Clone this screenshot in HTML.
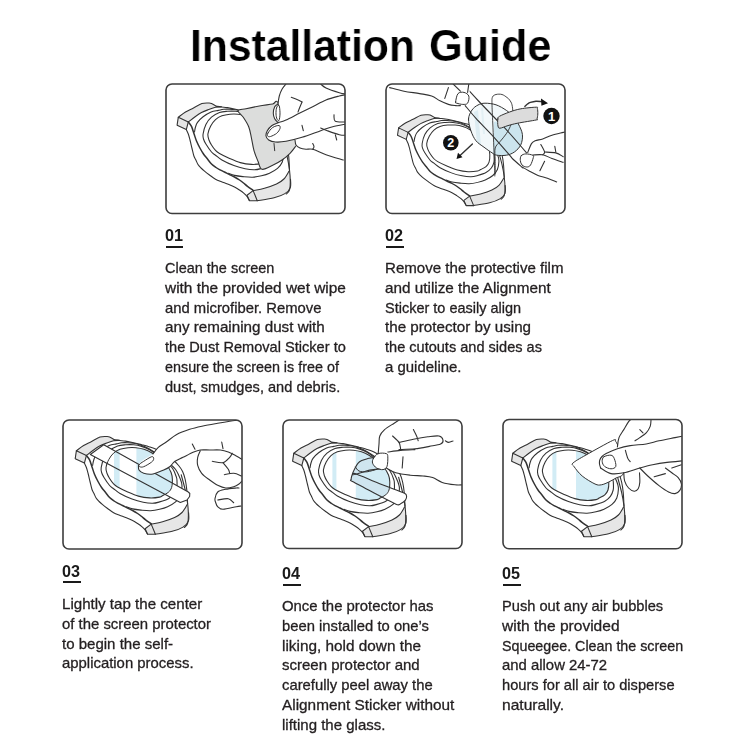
<!DOCTYPE html>
<html><head><meta charset="utf-8">
<style>
html,body{margin:0;padding:0;background:#fff;}
body{width:750px;height:750px;position:relative;overflow:hidden;font-family:"Liberation Sans",sans-serif;}
#art{position:absolute;left:0;top:0;}
.title{position:absolute;left:0;top:0;white-space:nowrap;font-weight:bold;font-size:45px;color:#000;line-height:1;-webkit-text-stroke:0.2px #fff;}
.num{position:absolute;font-weight:bold;font-size:16.2px;color:#1a1a1a;line-height:1;white-space:nowrap;}
.ul{position:absolute;height:2.2px;background:#1a1a1a;}
.txt{position:absolute;font-size:15px;line-height:19.8px;color:#231f20;white-space:nowrap;-webkit-text-stroke:0.3px #231f20;}
.txt div{transform-origin:0 0;}
.txt,.title,.num{will-change:transform;}
</style></head><body>

<svg id="art" width="750" height="750" viewBox="0 0 750 750">
<clipPath id="c1"><rect x="166" y="84" width="179" height="129.5" rx="6"/></clipPath><g clip-path="url(#c1)"><g transform="translate(166,84)"><g transform="translate(2.5,0)"><path d="M17.80,45.60 L19.80,50.00 L21.50,56.00 L23.40,64.00 L25.40,72.00 L27.40,76.00 L29.50,80.50 L32.50,84.00 L36.00,87.20 L41.00,91.00 L47.00,95.20 L53.00,97.80 L59.00,100.00 L66.00,103.00 L71.00,106.00 L75.50,109.30 L78.50,112.50 L80.80,116.50 L81.00,116.80 L88.80,116.80 L105.60,113.80 L116.40,109.60 L121.80,103.60 L122.40,95.20 L121.00,86.00 L121.00,86.00 L120.20,72.40 L118.60,62.00 L116.00,54.00 L112.00,48.00 L106.00,42.00 L98.00,36.50 L90.00,32.00 L83.00,29.40 L75.00,27.20 L67.00,25.20 L59.00,23.60 L53.00,23.00 L48.00,22.30 L39.80,19.00 L33.40,19.60 L25.00,24.00 L17.00,28.00 L9.80,33.20 L8.60,41.20Z" fill="#fff" stroke="none"/>
<path d="M9.80,33.20C9.52,32.20 15.48,28.92 17.00,28.00C18.52,27.08 23.36,24.84 25.00,24.00C26.64,23.16 31.92,20.10 33.40,19.60C34.88,19.10 38.84,19.02 39.80,19.00C40.76,18.98 42.18,19.07 43.00,19.40C43.82,19.73 47.60,21.92 48.00,22.30C48.40,22.68 47.80,22.87 47.00,23.20C46.20,23.53 41.40,25.06 40.00,25.60C38.60,26.14 34.34,27.88 33.00,28.60C31.66,29.32 27.92,31.86 26.60,32.80C25.28,33.74 21.48,37.96 19.80,38.00C18.12,38.04 10.08,34.20 9.80,33.20Z" fill="#e6e6e6"/>
<path d="M9.80,33.20 L8.60,41.20 L17.80,45.60 L19.80,38.00Z" fill="#e6e6e6"/>
<path d="M78.50,111.20 L84.60,106.60 L88.80,116.80 L81.00,116.80Z" fill="#e6e6e6"/>
<path d="M84.60,106.60 L96.00,104.20 L108.00,100.00 L115.40,95.00 L120.60,87.00 L122.00,95.20 L121.80,103.60 L116.40,109.60 L105.60,113.80 L88.80,116.80Z" fill="#e6e6e6"/>
<g fill="none" stroke="#333333" stroke-width="1.1" stroke-linecap="round" stroke-linejoin="round"><path d="M17.80,45.60C18.13,46.33 19.18,48.27 19.80,50.00C20.42,51.73 20.90,53.67 21.50,56.00C22.10,58.33 22.75,61.33 23.40,64.00C24.05,66.67 24.73,70.00 25.40,72.00C26.07,74.00 26.72,74.58 27.40,76.00C28.08,77.42 28.65,79.17 29.50,80.50C30.35,81.83 31.42,82.88 32.50,84.00C33.58,85.12 34.58,86.03 36.00,87.20C37.42,88.37 39.17,89.67 41.00,91.00C42.83,92.33 45.00,94.07 47.00,95.20C49.00,96.33 51.00,97.00 53.00,97.80C55.00,98.60 56.83,99.13 59.00,100.00C61.17,100.87 64.00,102.00 66.00,103.00C68.00,104.00 69.42,104.95 71.00,106.00C72.58,107.05 74.25,108.22 75.50,109.30C76.75,110.38 77.62,111.30 78.50,112.50C79.38,113.70 80.42,115.83 80.80,116.50"/><path d="M19.80,38.00C20.33,38.73 22.03,40.40 23.00,42.40C23.97,44.40 24.77,47.57 25.60,50.00C26.43,52.43 27.03,54.67 28.00,57.00C28.97,59.33 30.23,61.83 31.40,64.00C32.57,66.17 33.73,68.17 35.00,70.00C36.27,71.83 37.67,73.33 39.00,75.00C40.33,76.67 41.58,78.58 43.00,80.00C44.42,81.42 46.17,82.57 47.50,83.50C48.83,84.43 49.58,84.85 51.00,85.60C52.42,86.35 54.40,87.20 56.00,88.00C57.60,88.80 58.93,89.57 60.60,90.40C62.27,91.23 64.27,92.07 66.00,93.00C67.73,93.93 69.50,95.00 71.00,96.00C72.50,97.00 73.67,97.93 75.00,99.00C76.33,100.07 77.40,101.17 79.00,102.40C80.60,103.63 83.67,105.73 84.60,106.40" stroke-width="1.5"/><path d="M26.00,48.00C26.17,47.17 26.50,44.60 27.00,43.00C27.50,41.40 27.73,40.10 29.00,38.40C30.27,36.70 32.33,34.53 34.60,32.80C36.87,31.07 40.07,29.07 42.60,28.00C45.13,26.93 47.73,26.85 49.80,26.40C51.87,25.95 53.13,25.50 55.00,25.30C56.87,25.10 59.00,25.12 61.00,25.20C63.00,25.28 65.00,25.47 67.00,25.80C69.00,26.13 71.00,26.57 73.00,27.20C75.00,27.83 76.83,28.55 79.00,29.60C81.17,30.65 83.33,31.85 86.00,33.50C88.67,35.15 92.17,37.42 95.00,39.50C97.83,41.58 100.67,43.92 103.00,46.00C105.33,48.08 107.47,50.00 109.00,52.00C110.53,54.00 111.27,56.00 112.20,58.00C113.13,60.00 114.07,62.13 114.60,64.00C115.13,65.87 115.53,66.87 115.40,69.20C115.27,71.53 114.87,75.47 113.80,78.00C112.73,80.53 111.13,82.53 109.00,84.40C106.87,86.27 103.67,87.97 101.00,89.20C98.33,90.43 95.83,91.13 93.00,91.80C90.17,92.47 87.10,93.07 84.00,93.20C80.90,93.33 77.40,92.90 74.40,92.60C71.40,92.30 68.40,91.95 66.00,91.40C63.60,90.85 61.00,89.65 60.00,89.30"/><path d="M34.60,50.00C34.20,52.43 34.53,53.33 35.00,55.00C35.47,56.67 36.07,57.83 37.40,60.00C38.73,62.17 41.40,66.13 43.00,68.00C44.60,69.87 45.27,69.87 47.00,71.20C48.73,72.53 50.33,74.27 53.40,76.00C56.47,77.73 61.53,80.13 65.40,81.60C69.27,83.07 73.17,84.10 76.60,84.80C80.03,85.50 83.27,85.87 86.00,85.80C88.73,85.73 90.37,85.17 93.00,84.40C95.63,83.63 99.40,82.53 101.80,81.20C104.20,79.87 106.00,78.27 107.40,76.40C108.80,74.53 109.70,72.07 110.20,70.00C110.70,67.93 110.47,65.73 110.40,64.00C110.33,62.27 110.53,61.77 109.80,59.60C109.07,57.43 107.80,53.60 106.00,51.00C104.20,48.40 101.50,46.17 99.00,44.00C96.50,41.83 93.67,39.95 91.00,38.00C88.33,36.05 85.67,33.82 83.00,32.30C80.33,30.78 77.67,29.73 75.00,28.90C72.33,28.07 69.67,27.57 67.00,27.30C64.33,27.03 61.67,27.10 59.00,27.30C56.33,27.50 53.67,27.52 51.00,28.50C48.33,29.48 45.27,31.22 43.00,33.20C40.73,35.18 38.80,37.60 37.40,40.40C36.00,43.20 35.00,47.57 34.60,50.00Z"/><path d="M39.40,50.00C39.12,52.33 39.90,54.17 40.50,56.00C41.10,57.83 41.92,59.27 43.00,61.00C44.08,62.73 45.67,64.98 47.00,66.40C48.33,67.82 48.73,68.20 51.00,69.50C53.27,70.80 57.13,72.68 60.60,74.20C64.07,75.72 68.07,77.57 71.80,78.60C75.53,79.63 79.47,80.23 83.00,80.40C86.53,80.57 90.80,80.00 93.00,79.60C95.20,79.20 94.73,78.80 96.20,78.00C97.67,77.20 100.33,76.13 101.80,74.80C103.27,73.47 104.33,72.13 105.00,70.00C105.67,67.87 105.88,64.50 105.80,62.00C105.72,59.50 105.47,57.42 104.50,55.00C103.53,52.58 101.92,49.83 100.00,47.50C98.08,45.17 95.50,43.05 93.00,41.00C90.50,38.95 87.60,36.73 85.00,35.20C82.40,33.67 80.00,32.63 77.40,31.80C74.80,30.97 72.07,30.47 69.40,30.20C66.73,29.93 64.07,29.93 61.40,30.20C58.73,30.47 55.80,30.90 53.40,31.80C51.00,32.70 48.87,33.90 47.00,35.60C45.13,37.30 43.47,39.60 42.20,42.00C40.93,44.40 39.68,47.67 39.40,50.00Z"/><path d="M48.00,22.30C48.83,22.42 51.17,22.78 53.00,23.00C54.83,23.22 56.67,23.23 59.00,23.60C61.33,23.97 64.33,24.60 67.00,25.20C69.67,25.80 72.33,26.50 75.00,27.20C77.67,27.90 80.50,28.60 83.00,29.40C85.50,30.20 87.50,30.82 90.00,32.00C92.50,33.18 95.33,34.83 98.00,36.50C100.67,38.17 103.67,40.08 106.00,42.00C108.33,43.92 110.33,46.00 112.00,48.00C113.67,50.00 114.90,51.67 116.00,54.00C117.10,56.33 117.90,58.93 118.60,62.00C119.30,65.07 119.80,68.40 120.20,72.40C120.60,76.40 120.87,83.73 121.00,86.00"/><path d="M114.60,57.20C115.27,59.73 117.53,67.60 118.60,72.40C119.67,77.20 120.47,81.73 121.00,86.00C121.53,90.27 121.80,94.67 121.80,98.00C121.80,101.33 121.67,104.00 121.00,106.00C120.33,108.00 118.33,109.33 117.80,110.00"/><path d="M9.80,33.20C11.00,32.33 14.47,29.53 17.00,28.00C19.53,26.47 22.27,25.40 25.00,24.00C27.73,22.60 30.93,20.43 33.40,19.60C35.87,18.77 38.20,19.03 39.80,19.00C41.40,18.97 41.63,18.85 43.00,19.40C44.37,19.95 47.17,21.82 48.00,22.30"/><path d="M19.80,38.00C20.93,37.13 24.40,34.37 26.60,32.80C28.80,31.23 30.77,29.80 33.00,28.60C35.23,27.40 37.67,26.50 40.00,25.60C42.33,24.70 44.83,23.67 47.00,23.20C49.17,22.73 52.00,22.87 53.00,22.80"/><path d="M9.80,33.20 L8.60,41.20 L17.80,45.60 L19.80,38.00Z"/><path d="M78.50,111.20 L84.60,106.60 L88.80,116.80 L81.00,116.80Z"/><path d="M84.60,106.60C86.50,106.20 92.10,105.30 96.00,104.20C99.90,103.10 104.77,101.53 108.00,100.00C111.23,98.47 113.30,97.17 115.40,95.00C117.50,92.83 119.73,88.33 120.60,87.00"/><path d="M122.00,95.20C121.97,96.60 122.73,101.20 121.80,103.60C120.87,106.00 119.10,107.90 116.40,109.60C113.70,111.30 110.20,112.60 105.60,113.80C101.00,115.00 91.60,116.30 88.80,116.80"/></g></g>
<path d="M72.00,26.70C72.45,25.27 76.45,25.48 80.00,24.70C83.55,23.92 88.85,22.78 93.30,22.00C97.75,21.22 103.58,20.58 106.70,20.00C109.82,19.42 108.95,15.17 112.00,18.50C115.05,21.83 121.67,33.42 125.00,40.00C128.33,46.58 131.28,54.22 132.00,58.00C132.72,61.78 130.63,60.82 129.30,62.70C127.97,64.58 126.22,67.08 124.00,69.30C121.78,71.52 118.88,74.00 116.00,76.00C113.12,78.00 110.03,79.75 106.70,81.30C103.37,82.85 98.45,85.97 96.00,85.30C93.55,84.63 93.33,80.40 92.00,77.30C90.67,74.20 89.12,70.70 88.00,66.70C86.88,62.70 86.18,57.30 85.30,53.30C84.42,49.30 84.03,46.03 82.70,42.70C81.37,39.37 79.08,35.97 77.30,33.30C75.52,30.63 71.55,28.13 72.00,26.70Z" fill="#dcdddc" stroke="#333333" stroke-width="1.1" stroke-linecap="round" stroke-linejoin="round"/>
<path d="M120.00,-2.00 L116.00,5.30 L113.30,12.00 L112.00,20.00 L108.70,22.70 L107.30,29.30 L108.70,34.70 L112.00,38.50 L106.00,41.50 L101.30,46.70 L100.00,52.00 L102.70,56.00 L109.30,58.00 L120.00,57.30 L129.00,55.50 L130.00,62.70 L136.00,64.70 L146.70,65.30 L160.00,70.70 L177.30,76.00 L182.00,76.00 L182.00,-2.00Z" fill="#fff"/>
<path d="M120.00,0.00C119.33,0.88 117.12,3.30 116.00,5.30C114.88,7.30 113.97,9.55 113.30,12.00C112.63,14.45 112.22,18.67 112.00,20.00" fill="none" stroke="#333333" stroke-width="1.1" stroke-linecap="round" stroke-linejoin="round"/>
<path d="M112.00,20.00C111.45,20.45 109.48,21.15 108.70,22.70C107.92,24.25 107.30,27.30 107.30,29.30C107.30,31.30 107.92,33.17 108.70,34.70C109.48,36.23 111.45,37.87 112.00,38.50" fill="none" stroke="#333333" stroke-width="1.1" stroke-linecap="round" stroke-linejoin="round"/>
<path d="M112.50,21.00C112.00,21.17 110.92,22.50 110.50,24.00C110.08,25.50 109.92,28.17 110.00,30.00C110.08,31.83 110.50,33.92 111.00,35.00C111.50,36.08 112.50,37.33 113.00,36.50C113.50,35.67 113.92,32.25 114.00,30.00C114.08,27.75 113.75,24.50 113.50,23.00C113.25,21.50 113.00,20.83 112.50,21.00Z" fill="none" stroke="#333333" stroke-width="1.0" stroke-linecap="round" stroke-linejoin="round"/>
<path d="M112.00,38.70C113.33,38.25 116.45,37.57 120.00,36.00C123.55,34.43 128.85,31.52 133.30,29.30C137.75,27.08 142.25,24.92 146.70,22.70C151.15,20.48 155.57,17.78 160.00,16.00C164.43,14.22 169.97,12.88 173.30,12.00C176.63,11.12 178.88,10.92 180.00,10.70" fill="none" stroke="#333333" stroke-width="1.1" stroke-linecap="round" stroke-linejoin="round"/>
<path d="M112.00,38.70C111.00,39.17 107.78,40.17 106.00,41.50C104.22,42.83 102.30,44.95 101.30,46.70C100.30,48.45 99.77,50.45 100.00,52.00C100.23,53.55 101.15,55.00 102.70,56.00C104.25,57.00 106.42,57.78 109.30,58.00C112.18,58.22 115.55,58.08 120.00,57.30C124.45,56.52 130.22,55.07 136.00,53.30C141.78,51.53 149.58,48.47 154.70,46.70C159.82,44.93 162.48,43.82 166.70,42.70C170.92,41.58 177.78,40.45 180.00,40.00" fill="none" stroke="#333333" stroke-width="1.1" stroke-linecap="round" stroke-linejoin="round"/>
<path d="M102.00,49.00C102.87,47.58 104.87,44.75 106.70,43.50C108.53,42.25 111.78,41.33 113.00,41.50C114.22,41.67 114.38,43.20 114.00,44.50C113.62,45.80 112.28,47.97 110.70,49.30C109.12,50.63 106.03,52.05 104.50,52.50C102.97,52.95 101.92,52.58 101.50,52.00C101.08,51.42 101.13,50.42 102.00,49.00Z" fill="none" stroke="#333333" stroke-width="1.0" stroke-linecap="round" stroke-linejoin="round"/>
<path d="M125.30,13.30C126.25,13.67 129.22,14.72 131.00,15.50C132.78,16.28 135.17,17.58 136.00,18.00" fill="none" stroke="#333333" stroke-width="1.1" stroke-linecap="round" stroke-linejoin="round"/>
<path d="M136.00,18.00C135.58,19.00 134.17,22.33 133.50,24.00C132.83,25.67 132.25,27.33 132.00,28.00" fill="none" stroke="#333333" stroke-width="1.1" stroke-linecap="round" stroke-linejoin="round"/>
<path d="M154.70,0.00C155.58,0.67 156.90,2.55 160.00,4.00C163.10,5.45 169.97,7.70 173.30,8.70C176.63,9.70 178.88,9.78 180.00,10.00" fill="none" stroke="#333333" stroke-width="1.1" stroke-linecap="round" stroke-linejoin="round"/>
<path d="M129.00,56.00C129.17,56.83 129.17,59.67 130.00,61.00C130.83,62.33 132.33,63.28 134.00,64.00C135.67,64.72 137.88,65.08 140.00,65.30C142.12,65.52 143.37,64.40 146.70,65.30C150.03,66.20 154.90,68.92 160.00,70.70C165.10,72.48 174.42,75.12 177.30,76.00" fill="none" stroke="#333333" stroke-width="1.1" stroke-linecap="round" stroke-linejoin="round"/>
<path d="M146.70,65.30C146.92,64.87 148.00,63.67 148.00,62.70C148.00,61.73 146.92,60.03 146.70,59.50" fill="none" stroke="#333333" stroke-width="1.1" stroke-linecap="round" stroke-linejoin="round"/>
<path d="M168.00,30.70C168.22,31.80 167.30,36.08 169.30,37.30C171.30,38.52 178.22,37.88 180.00,38.00" fill="none" stroke="#333333" stroke-width="1.1" stroke-linecap="round" stroke-linejoin="round"/>
<path d="M154.70,44.00C155.80,44.45 158.20,45.58 161.30,46.70C164.40,47.82 170.18,49.93 173.30,50.70C176.42,51.47 178.88,51.20 180.00,51.30" fill="none" stroke="#333333" stroke-width="1.1" stroke-linecap="round" stroke-linejoin="round"/>
<path d="M169.30,50.70L170.70,56.00" fill="none" stroke="#333333" stroke-width="1.1" stroke-linecap="round" stroke-linejoin="round"/>
<path d="M136.00,41.30L137.30,46.70" fill="none" stroke="#333333" stroke-width="1.1" stroke-linecap="round" stroke-linejoin="round"/>
<path d="M108.00,59.50L108.70,66.70" fill="none" stroke="#333333" stroke-width="1.0" stroke-linecap="round" stroke-linejoin="round"/></g></g>
<clipPath id="c2"><rect x="386" y="84" width="179" height="129.5" rx="6"/></clipPath><g clip-path="url(#c2)"><g transform="translate(386,84)"><g transform="translate(3.3,13) scale(0.95,0.93)"><path d="M17.80,45.60 L19.80,50.00 L21.50,56.00 L23.40,64.00 L25.40,72.00 L27.40,76.00 L29.50,80.50 L32.50,84.00 L36.00,87.20 L41.00,91.00 L47.00,95.20 L53.00,97.80 L59.00,100.00 L66.00,103.00 L71.00,106.00 L75.50,109.30 L78.50,112.50 L80.80,116.50 L81.00,116.80 L88.80,116.80 L105.60,113.80 L116.40,109.60 L121.80,103.60 L122.40,95.20 L121.00,86.00 L121.00,86.00 L120.20,72.40 L118.60,62.00 L116.00,54.00 L112.00,48.00 L106.00,42.00 L98.00,36.50 L90.00,32.00 L83.00,29.40 L75.00,27.20 L67.00,25.20 L59.00,23.60 L53.00,23.00 L48.00,22.30 L39.80,19.00 L33.40,19.60 L25.00,24.00 L17.00,28.00 L9.80,33.20 L8.60,41.20Z" fill="#fff" stroke="none"/>
<path d="M9.80,33.20C9.52,32.20 15.48,28.92 17.00,28.00C18.52,27.08 23.36,24.84 25.00,24.00C26.64,23.16 31.92,20.10 33.40,19.60C34.88,19.10 38.84,19.02 39.80,19.00C40.76,18.98 42.18,19.07 43.00,19.40C43.82,19.73 47.60,21.92 48.00,22.30C48.40,22.68 47.80,22.87 47.00,23.20C46.20,23.53 41.40,25.06 40.00,25.60C38.60,26.14 34.34,27.88 33.00,28.60C31.66,29.32 27.92,31.86 26.60,32.80C25.28,33.74 21.48,37.96 19.80,38.00C18.12,38.04 10.08,34.20 9.80,33.20Z" fill="#e6e6e6"/>
<path d="M9.80,33.20 L8.60,41.20 L17.80,45.60 L19.80,38.00Z" fill="#e6e6e6"/>
<path d="M78.50,111.20 L84.60,106.60 L88.80,116.80 L81.00,116.80Z" fill="#e6e6e6"/>
<path d="M84.60,106.60 L96.00,104.20 L108.00,100.00 L115.40,95.00 L120.60,87.00 L122.00,95.20 L121.80,103.60 L116.40,109.60 L105.60,113.80 L88.80,116.80Z" fill="#e6e6e6"/>
<g fill="none" stroke="#333333" stroke-width="1.1" stroke-linecap="round" stroke-linejoin="round"><path d="M17.80,45.60C18.13,46.33 19.18,48.27 19.80,50.00C20.42,51.73 20.90,53.67 21.50,56.00C22.10,58.33 22.75,61.33 23.40,64.00C24.05,66.67 24.73,70.00 25.40,72.00C26.07,74.00 26.72,74.58 27.40,76.00C28.08,77.42 28.65,79.17 29.50,80.50C30.35,81.83 31.42,82.88 32.50,84.00C33.58,85.12 34.58,86.03 36.00,87.20C37.42,88.37 39.17,89.67 41.00,91.00C42.83,92.33 45.00,94.07 47.00,95.20C49.00,96.33 51.00,97.00 53.00,97.80C55.00,98.60 56.83,99.13 59.00,100.00C61.17,100.87 64.00,102.00 66.00,103.00C68.00,104.00 69.42,104.95 71.00,106.00C72.58,107.05 74.25,108.22 75.50,109.30C76.75,110.38 77.62,111.30 78.50,112.50C79.38,113.70 80.42,115.83 80.80,116.50"/><path d="M19.80,38.00C20.33,38.73 22.03,40.40 23.00,42.40C23.97,44.40 24.77,47.57 25.60,50.00C26.43,52.43 27.03,54.67 28.00,57.00C28.97,59.33 30.23,61.83 31.40,64.00C32.57,66.17 33.73,68.17 35.00,70.00C36.27,71.83 37.67,73.33 39.00,75.00C40.33,76.67 41.58,78.58 43.00,80.00C44.42,81.42 46.17,82.57 47.50,83.50C48.83,84.43 49.58,84.85 51.00,85.60C52.42,86.35 54.40,87.20 56.00,88.00C57.60,88.80 58.93,89.57 60.60,90.40C62.27,91.23 64.27,92.07 66.00,93.00C67.73,93.93 69.50,95.00 71.00,96.00C72.50,97.00 73.67,97.93 75.00,99.00C76.33,100.07 77.40,101.17 79.00,102.40C80.60,103.63 83.67,105.73 84.60,106.40" stroke-width="1.5"/><path d="M26.00,48.00C26.17,47.17 26.50,44.60 27.00,43.00C27.50,41.40 27.73,40.10 29.00,38.40C30.27,36.70 32.33,34.53 34.60,32.80C36.87,31.07 40.07,29.07 42.60,28.00C45.13,26.93 47.73,26.85 49.80,26.40C51.87,25.95 53.13,25.50 55.00,25.30C56.87,25.10 59.00,25.12 61.00,25.20C63.00,25.28 65.00,25.47 67.00,25.80C69.00,26.13 71.00,26.57 73.00,27.20C75.00,27.83 76.83,28.55 79.00,29.60C81.17,30.65 83.33,31.85 86.00,33.50C88.67,35.15 92.17,37.42 95.00,39.50C97.83,41.58 100.67,43.92 103.00,46.00C105.33,48.08 107.47,50.00 109.00,52.00C110.53,54.00 111.27,56.00 112.20,58.00C113.13,60.00 114.07,62.13 114.60,64.00C115.13,65.87 115.53,66.87 115.40,69.20C115.27,71.53 114.87,75.47 113.80,78.00C112.73,80.53 111.13,82.53 109.00,84.40C106.87,86.27 103.67,87.97 101.00,89.20C98.33,90.43 95.83,91.13 93.00,91.80C90.17,92.47 87.10,93.07 84.00,93.20C80.90,93.33 77.40,92.90 74.40,92.60C71.40,92.30 68.40,91.95 66.00,91.40C63.60,90.85 61.00,89.65 60.00,89.30"/><path d="M34.60,50.00C34.20,52.43 34.53,53.33 35.00,55.00C35.47,56.67 36.07,57.83 37.40,60.00C38.73,62.17 41.40,66.13 43.00,68.00C44.60,69.87 45.27,69.87 47.00,71.20C48.73,72.53 50.33,74.27 53.40,76.00C56.47,77.73 61.53,80.13 65.40,81.60C69.27,83.07 73.17,84.10 76.60,84.80C80.03,85.50 83.27,85.87 86.00,85.80C88.73,85.73 90.37,85.17 93.00,84.40C95.63,83.63 99.40,82.53 101.80,81.20C104.20,79.87 106.00,78.27 107.40,76.40C108.80,74.53 109.70,72.07 110.20,70.00C110.70,67.93 110.47,65.73 110.40,64.00C110.33,62.27 110.53,61.77 109.80,59.60C109.07,57.43 107.80,53.60 106.00,51.00C104.20,48.40 101.50,46.17 99.00,44.00C96.50,41.83 93.67,39.95 91.00,38.00C88.33,36.05 85.67,33.82 83.00,32.30C80.33,30.78 77.67,29.73 75.00,28.90C72.33,28.07 69.67,27.57 67.00,27.30C64.33,27.03 61.67,27.10 59.00,27.30C56.33,27.50 53.67,27.52 51.00,28.50C48.33,29.48 45.27,31.22 43.00,33.20C40.73,35.18 38.80,37.60 37.40,40.40C36.00,43.20 35.00,47.57 34.60,50.00Z"/><path d="M39.40,50.00C39.12,52.33 39.90,54.17 40.50,56.00C41.10,57.83 41.92,59.27 43.00,61.00C44.08,62.73 45.67,64.98 47.00,66.40C48.33,67.82 48.73,68.20 51.00,69.50C53.27,70.80 57.13,72.68 60.60,74.20C64.07,75.72 68.07,77.57 71.80,78.60C75.53,79.63 79.47,80.23 83.00,80.40C86.53,80.57 90.80,80.00 93.00,79.60C95.20,79.20 94.73,78.80 96.20,78.00C97.67,77.20 100.33,76.13 101.80,74.80C103.27,73.47 104.33,72.13 105.00,70.00C105.67,67.87 105.88,64.50 105.80,62.00C105.72,59.50 105.47,57.42 104.50,55.00C103.53,52.58 101.92,49.83 100.00,47.50C98.08,45.17 95.50,43.05 93.00,41.00C90.50,38.95 87.60,36.73 85.00,35.20C82.40,33.67 80.00,32.63 77.40,31.80C74.80,30.97 72.07,30.47 69.40,30.20C66.73,29.93 64.07,29.93 61.40,30.20C58.73,30.47 55.80,30.90 53.40,31.80C51.00,32.70 48.87,33.90 47.00,35.60C45.13,37.30 43.47,39.60 42.20,42.00C40.93,44.40 39.68,47.67 39.40,50.00Z"/><path d="M48.00,22.30C48.83,22.42 51.17,22.78 53.00,23.00C54.83,23.22 56.67,23.23 59.00,23.60C61.33,23.97 64.33,24.60 67.00,25.20C69.67,25.80 72.33,26.50 75.00,27.20C77.67,27.90 80.50,28.60 83.00,29.40C85.50,30.20 87.50,30.82 90.00,32.00C92.50,33.18 95.33,34.83 98.00,36.50C100.67,38.17 103.67,40.08 106.00,42.00C108.33,43.92 110.33,46.00 112.00,48.00C113.67,50.00 114.90,51.67 116.00,54.00C117.10,56.33 117.90,58.93 118.60,62.00C119.30,65.07 119.80,68.40 120.20,72.40C120.60,76.40 120.87,83.73 121.00,86.00"/><path d="M114.60,57.20C115.27,59.73 117.53,67.60 118.60,72.40C119.67,77.20 120.47,81.73 121.00,86.00C121.53,90.27 121.80,94.67 121.80,98.00C121.80,101.33 121.67,104.00 121.00,106.00C120.33,108.00 118.33,109.33 117.80,110.00"/><path d="M9.80,33.20C11.00,32.33 14.47,29.53 17.00,28.00C19.53,26.47 22.27,25.40 25.00,24.00C27.73,22.60 30.93,20.43 33.40,19.60C35.87,18.77 38.20,19.03 39.80,19.00C41.40,18.97 41.63,18.85 43.00,19.40C44.37,19.95 47.17,21.82 48.00,22.30"/><path d="M19.80,38.00C20.93,37.13 24.40,34.37 26.60,32.80C28.80,31.23 30.77,29.80 33.00,28.60C35.23,27.40 37.67,26.50 40.00,25.60C42.33,24.70 44.83,23.67 47.00,23.20C49.17,22.73 52.00,22.87 53.00,22.80"/><path d="M9.80,33.20 L8.60,41.20 L17.80,45.60 L19.80,38.00Z"/><path d="M78.50,111.20 L84.60,106.60 L88.80,116.80 L81.00,116.80Z"/><path d="M84.60,106.60C86.50,106.20 92.10,105.30 96.00,104.20C99.90,103.10 104.77,101.53 108.00,100.00C111.23,98.47 113.30,97.17 115.40,95.00C117.50,92.83 119.73,88.33 120.60,87.00"/><path d="M122.00,95.20C121.97,96.60 122.73,101.20 121.80,103.60C120.87,106.00 119.10,107.90 116.40,109.60C113.70,111.30 110.20,112.60 105.60,113.80C101.00,115.00 91.60,116.30 88.80,116.80"/></g></g>
<circle cx="64.8" cy="58.8" r="7.8" fill="#111"/>
<text x="64.8" y="63.1" font-family="Liberation Sans" font-weight="bold" font-size="12.5" fill="#fff" text-anchor="middle">2</text>
<path d="M86.40,60.00L73.00,72.50" fill="none" stroke="#333333" stroke-width="1.4" stroke-linecap="round" stroke-linejoin="round"/>
<path d="M70.5,75 L72,68.8 L76.5,73.2 Z" fill="#111"/>
<clipPath id="gl2"><path d="M82.50,35.00C82.67,31.50 84.42,28.33 86.00,26.00C87.58,23.67 89.83,22.13 92.00,21.00C94.17,19.87 96.00,19.23 99.00,19.20C102.00,19.17 106.43,19.60 110.00,20.80C113.57,22.00 117.47,24.40 120.40,26.40C123.33,28.40 125.60,30.53 127.60,32.80C129.60,35.07 130.93,37.07 132.40,40.00C133.87,42.93 136.00,46.93 136.40,50.40C136.80,53.87 136.13,57.87 134.80,60.80C133.47,63.73 130.80,66.27 128.40,68.00C126.00,69.73 123.33,70.67 120.40,71.20C117.47,71.73 113.20,71.60 110.80,71.20C108.40,70.80 108.13,70.13 106.00,68.80C103.87,67.47 100.67,65.20 98.00,63.20C95.33,61.20 92.17,59.50 90.00,56.80C87.83,54.10 86.25,50.63 85.00,47.00C83.75,43.37 82.33,38.50 82.50,35.00Z"/></clipPath>
<path d="M82.50,35.00C82.67,31.50 84.42,28.33 86.00,26.00C87.58,23.67 89.83,22.13 92.00,21.00C94.17,19.87 96.00,19.23 99.00,19.20C102.00,19.17 106.43,19.60 110.00,20.80C113.57,22.00 117.47,24.40 120.40,26.40C123.33,28.40 125.60,30.53 127.60,32.80C129.60,35.07 130.93,37.07 132.40,40.00C133.87,42.93 136.00,46.93 136.40,50.40C136.80,53.87 136.13,57.87 134.80,60.80C133.47,63.73 130.80,66.27 128.40,68.00C126.00,69.73 123.33,70.67 120.40,71.20C117.47,71.73 113.20,71.60 110.80,71.20C108.40,70.80 108.13,70.13 106.00,68.80C103.87,67.47 100.67,65.20 98.00,63.20C95.33,61.20 92.17,59.50 90.00,56.80C87.83,54.10 86.25,50.63 85.00,47.00C83.75,43.37 82.33,38.50 82.50,35.00Z" fill="#f2f8fa"/>
<g clip-path="url(#gl2)"><path d="M108,38 L140,30 L140,75 L107,75 Z" fill="#cce5ee"/><path d="M88,28 L92,26 L95,62 L91,60 Z" fill="#dcecf2"/><path d="M95,24 L97,23 L99,50 L97,50 Z" fill="#e3f0f4"/></g>
<path d="M82.50,35.00C82.67,31.50 84.42,28.33 86.00,26.00C87.58,23.67 89.83,22.13 92.00,21.00C94.17,19.87 96.00,19.23 99.00,19.20C102.00,19.17 106.43,19.60 110.00,20.80C113.57,22.00 117.47,24.40 120.40,26.40C123.33,28.40 125.60,30.53 127.60,32.80C129.60,35.07 130.93,37.07 132.40,40.00C133.87,42.93 136.00,46.93 136.40,50.40C136.80,53.87 136.13,57.87 134.80,60.80C133.47,63.73 130.80,66.27 128.40,68.00C126.00,69.73 123.33,70.67 120.40,71.20C117.47,71.73 113.20,71.60 110.80,71.20C108.40,70.80 108.13,70.13 106.00,68.80C103.87,67.47 100.67,65.20 98.00,63.20C95.33,61.20 92.17,59.50 90.00,56.80C87.83,54.10 86.25,50.63 85.00,47.00C83.75,43.37 82.33,38.50 82.50,35.00Z" fill="none" stroke="#333333" stroke-width="1.0" stroke-linecap="round" stroke-linejoin="round"/>
<path d="M109.20,90.00C109.20,87.67 109.20,80.33 109.20,76.00C109.20,71.67 108.40,67.07 109.20,64.00C110.00,60.93 112.13,60.00 114.00,57.60C115.87,55.20 118.53,52.53 120.40,49.60C122.27,46.67 124.13,43.33 125.20,40.00C126.27,36.67 126.67,32.80 126.80,29.60C126.93,26.40 126.53,23.07 126.00,20.80C125.47,18.53 124.43,17.22 123.60,16.00C122.77,14.78 122.27,14.42 121.00,13.50C119.73,12.58 117.83,11.00 116.00,10.50C114.17,10.00 111.58,10.08 110.00,10.50C108.42,10.92 107.17,11.42 106.50,13.00C105.83,14.58 105.95,15.50 106.00,20.00C106.05,24.50 106.40,30.67 106.80,40.00C107.20,49.33 108.07,67.33 108.40,76.00C108.73,84.67 108.73,89.33 108.80,92.00" fill="none" stroke="#333333" stroke-width="0.9" stroke-linecap="round" stroke-linejoin="round"/>
<path d="M77.00,0.00C79.43,2.67 85.97,10.00 91.60,16.00C97.23,22.00 106.13,31.20 110.80,36.00C115.47,40.80 114.53,39.20 119.60,44.80C124.67,50.40 136.80,64.40 141.20,69.60C145.60,74.80 145.20,74.93 146.00,76.00" fill="none" stroke="#333333" stroke-width="1.1" stroke-linecap="round" stroke-linejoin="round"/>
<path d="M79.20,21.60C81.00,23.73 85.53,29.47 90.00,34.40C94.47,39.33 100.40,45.07 106.00,51.20C111.60,57.33 120.13,67.23 123.60,71.20C127.07,75.17 124.57,72.87 126.80,75.00C129.03,77.13 135.30,82.50 137.00,84.00" fill="none" stroke="#333333" stroke-width="1.1" stroke-linecap="round" stroke-linejoin="round"/>
<path d="M111.80,35.00C112.05,33.38 111.53,33.47 113.50,32.30C115.47,31.13 120.05,29.25 123.60,28.00C127.15,26.75 130.40,25.60 134.80,24.80C139.20,24.00 147.23,23.25 150.00,23.20C152.77,23.15 151.10,23.37 151.40,24.50C151.70,25.63 151.87,28.25 151.80,30.00C151.73,31.75 151.30,34.00 151.00,35.00C150.70,36.00 153.23,35.30 150.00,36.00C146.77,36.70 136.27,38.27 131.60,39.20C126.93,40.13 124.93,40.77 122.00,41.60C119.07,42.43 115.67,44.13 114.00,44.20C112.33,44.27 112.37,43.53 112.00,42.00C111.63,40.47 111.55,36.62 111.80,35.00Z" fill="#dcdcdc" stroke="#333333" stroke-width="1.0" stroke-linecap="round" stroke-linejoin="round"/>
<path d="M138.80,22.40C139.25,22.00 140.57,20.67 141.50,20.00C142.43,19.33 142.98,18.87 144.40,18.40C145.82,17.93 148.15,17.33 150.00,17.20C151.85,17.07 154.58,17.53 155.50,17.60" fill="none" stroke="#333333" stroke-width="1.4" stroke-linecap="round" stroke-linejoin="round"/>
<path d="M155,14.6 L162,19.2 L155.4,21.8 Z" fill="#111"/>
<circle cx="165.5" cy="32" r="8.2" fill="#111"/>
<text x="165.6" y="36.6" font-family="Liberation Sans" font-weight="bold" font-size="13" fill="#fff" text-anchor="middle">1</text>
<path d="M-2.00,-2.00 L-2.00,2.00 L3.60,3.60 L18.00,7.20 L33.60,9.60 L45.60,12.00 L54.00,16.80 L62.40,20.40 L69.60,21.60 L74.40,21.60 L79.00,20.50 L83.00,14.00 L84.00,4.00 L86.00,-2.00Z" fill="#fff"/>
<path d="M3.60,3.60C6.00,4.20 13.00,6.20 18.00,7.20C23.00,8.20 29.00,8.80 33.60,9.60C38.20,10.40 42.20,10.80 45.60,12.00C49.00,13.20 51.20,15.40 54.00,16.80C56.80,18.20 59.80,19.60 62.40,20.40C65.00,21.20 67.60,21.40 69.60,21.60C71.60,21.80 73.60,21.60 74.40,21.60" fill="none" stroke="#333333" stroke-width="1.1" stroke-linecap="round" stroke-linejoin="round"/>
<path d="M69.60,18.00C69.80,16.40 70.60,11.20 72.00,9.60C73.40,8.00 76.20,8.00 78.00,8.40C79.80,8.80 82.20,10.20 82.80,12.00C83.40,13.80 82.60,17.80 81.60,19.20C80.60,20.60 78.60,20.40 76.80,20.40C75.00,20.40 72.00,19.60 70.80,19.20C69.60,18.80 69.40,19.60 69.60,18.00Z" fill="none" stroke="#333333" stroke-width="1.0" stroke-linecap="round" stroke-linejoin="round"/>
<path d="M62.40,3.60L58.80,14.40" fill="none" stroke="#333333" stroke-width="1.1" stroke-linecap="round" stroke-linejoin="round"/>
<path d="M82.80,0.00L81.60,8.40" fill="none" stroke="#333333" stroke-width="1.1" stroke-linecap="round" stroke-linejoin="round"/>
<path d="M67.20,0.00L74.40,7.20" fill="none" stroke="#333333" stroke-width="1.1" stroke-linecap="round" stroke-linejoin="round"/>
<path d="M134.30,76.40 L135.20,71.70 L139.90,69.90 L141.70,68.00 L145.50,59.60 L149.20,56.80 L156.70,54.90 L166.00,51.20 L177.20,48.40 L182.00,47.00 L182.00,100.00 L170.70,97.90 L161.40,94.20 L152.00,91.40 L142.70,86.70 L136.10,83.00Z" fill="#fff"/>
<path d="M141.70,68.50C142.33,67.02 144.25,61.55 145.50,59.60C146.75,57.65 147.33,57.58 149.20,56.80C151.07,56.02 153.90,55.83 156.70,54.90C159.50,53.97 162.58,52.28 166.00,51.20C169.42,50.12 174.70,49.02 177.20,48.40C179.70,47.78 180.37,47.65 181.00,47.50" fill="none" stroke="#333333" stroke-width="1.1" stroke-linecap="round" stroke-linejoin="round"/>
<path d="M135.20,71.70C136.13,70.62 137.95,69.97 139.90,69.90C141.85,69.83 145.67,70.68 146.90,71.30C148.13,71.92 147.70,71.97 147.30,73.60C146.90,75.23 145.58,79.53 144.50,81.10C143.42,82.67 142.20,83.00 140.80,83.00C139.40,83.00 137.18,82.20 136.10,81.10C135.02,80.00 134.45,77.97 134.30,76.40C134.15,74.83 134.27,72.78 135.20,71.70Z" fill="none" stroke="#333333" stroke-width="1.0" stroke-linecap="round" stroke-linejoin="round"/>
<path d="M136.10,83.00C137.20,83.62 140.05,85.30 142.70,86.70C145.35,88.10 148.88,90.15 152.00,91.40C155.12,92.65 158.28,93.12 161.40,94.20C164.52,95.28 169.15,97.28 170.70,97.90" fill="none" stroke="#333333" stroke-width="1.1" stroke-linecap="round" stroke-linejoin="round"/>
<path d="M147.00,71.00C148.62,70.97 153.53,70.22 156.70,70.80C159.87,71.38 162.58,73.25 166.00,74.50C169.42,75.75 175.33,77.67 177.20,78.30" fill="none" stroke="#333333" stroke-width="1.1" stroke-linecap="round" stroke-linejoin="round"/>
<path d="M154.80,60.50C155.43,61.75 158.28,66.28 158.60,68.00C158.92,69.72 157.02,70.33 156.70,70.80" fill="none" stroke="#333333" stroke-width="1.1" stroke-linecap="round" stroke-linejoin="round"/>
<path d="M158.60,68.00C160.47,68.15 166.70,68.12 169.80,68.90C172.90,69.68 175.97,72.07 177.20,72.70" fill="none" stroke="#333333" stroke-width="1.1" stroke-linecap="round" stroke-linejoin="round"/>
<path d="M168.80,62.40L169.80,68.00" fill="none" stroke="#333333" stroke-width="1.1" stroke-linecap="round" stroke-linejoin="round"/>
<path d="M158.60,77.30L153.90,86.70" fill="none" stroke="#333333" stroke-width="1.1" stroke-linecap="round" stroke-linejoin="round"/></g></g>
<clipPath id="c3"><rect x="63" y="420" width="179" height="129" rx="6"/></clipPath><g clip-path="url(#c3)"><g transform="translate(63,420)"><g transform="translate(3.6,-2.5)"><path d="M17.80,45.60 L19.80,50.00 L21.50,56.00 L23.40,64.00 L25.40,72.00 L27.40,76.00 L29.50,80.50 L32.50,84.00 L36.00,87.20 L41.00,91.00 L47.00,95.20 L53.00,97.80 L59.00,100.00 L66.00,103.00 L71.00,106.00 L75.50,109.30 L78.50,112.50 L80.80,116.50 L81.00,116.80 L88.80,116.80 L105.60,113.80 L116.40,109.60 L121.80,103.60 L122.40,95.20 L121.00,86.00 L121.00,86.00 L120.20,72.40 L118.60,62.00 L116.00,54.00 L112.00,48.00 L106.00,42.00 L98.00,36.50 L90.00,32.00 L83.00,29.40 L75.00,27.20 L67.00,25.20 L59.00,23.60 L53.00,23.00 L48.00,22.30 L39.80,19.00 L33.40,19.60 L25.00,24.00 L17.00,28.00 L9.80,33.20 L8.60,41.20Z" fill="#fff" stroke="none"/>
<path d="M9.80,33.20C9.52,32.20 15.48,28.92 17.00,28.00C18.52,27.08 23.36,24.84 25.00,24.00C26.64,23.16 31.92,20.10 33.40,19.60C34.88,19.10 38.84,19.02 39.80,19.00C40.76,18.98 42.18,19.07 43.00,19.40C43.82,19.73 47.60,21.92 48.00,22.30C48.40,22.68 47.80,22.87 47.00,23.20C46.20,23.53 41.40,25.06 40.00,25.60C38.60,26.14 34.34,27.88 33.00,28.60C31.66,29.32 27.92,31.86 26.60,32.80C25.28,33.74 21.48,37.96 19.80,38.00C18.12,38.04 10.08,34.20 9.80,33.20Z" fill="#e6e6e6"/>
<path d="M9.80,33.20 L8.60,41.20 L17.80,45.60 L19.80,38.00Z" fill="#e6e6e6"/>
<path d="M78.50,111.20 L84.60,106.60 L88.80,116.80 L81.00,116.80Z" fill="#e6e6e6"/>
<path d="M84.60,106.60 L96.00,104.20 L108.00,100.00 L115.40,95.00 L120.60,87.00 L122.00,95.20 L121.80,103.60 L116.40,109.60 L105.60,113.80 L88.80,116.80Z" fill="#e6e6e6"/>
<clipPath id="scr3"><path d="M39.40,50.00C39.12,52.33 39.90,54.17 40.50,56.00C41.10,57.83 41.92,59.27 43.00,61.00C44.08,62.73 45.67,64.98 47.00,66.40C48.33,67.82 48.73,68.20 51.00,69.50C53.27,70.80 57.13,72.68 60.60,74.20C64.07,75.72 68.07,77.57 71.80,78.60C75.53,79.63 79.47,80.23 83.00,80.40C86.53,80.57 90.80,80.00 93.00,79.60C95.20,79.20 94.73,78.80 96.20,78.00C97.67,77.20 100.33,76.13 101.80,74.80C103.27,73.47 104.33,72.13 105.00,70.00C105.67,67.87 105.88,64.50 105.80,62.00C105.72,59.50 105.47,57.42 104.50,55.00C103.53,52.58 101.92,49.83 100.00,47.50C98.08,45.17 95.50,43.05 93.00,41.00C90.50,38.95 87.60,36.73 85.00,35.20C82.40,33.67 80.00,32.63 77.40,31.80C74.80,30.97 72.07,30.47 69.40,30.20C66.73,29.93 64.07,29.93 61.40,30.20C58.73,30.47 55.80,30.90 53.40,31.80C51.00,32.70 48.87,33.90 47.00,35.60C45.13,37.30 43.47,39.60 42.20,42.00C40.93,44.40 39.68,47.67 39.40,50.00Z"/></clipPath>
<rect x="47.4" y="20" width="5.600000000000001" height="70" fill="#d2ecf5" clip-path="url(#scr3)"/>
<rect x="69.8" y="20" width="55.2" height="70" fill="#d2ecf5" clip-path="url(#scr3)"/>
<g fill="none" stroke="#333333" stroke-width="1.1" stroke-linecap="round" stroke-linejoin="round"><path d="M17.80,45.60C18.13,46.33 19.18,48.27 19.80,50.00C20.42,51.73 20.90,53.67 21.50,56.00C22.10,58.33 22.75,61.33 23.40,64.00C24.05,66.67 24.73,70.00 25.40,72.00C26.07,74.00 26.72,74.58 27.40,76.00C28.08,77.42 28.65,79.17 29.50,80.50C30.35,81.83 31.42,82.88 32.50,84.00C33.58,85.12 34.58,86.03 36.00,87.20C37.42,88.37 39.17,89.67 41.00,91.00C42.83,92.33 45.00,94.07 47.00,95.20C49.00,96.33 51.00,97.00 53.00,97.80C55.00,98.60 56.83,99.13 59.00,100.00C61.17,100.87 64.00,102.00 66.00,103.00C68.00,104.00 69.42,104.95 71.00,106.00C72.58,107.05 74.25,108.22 75.50,109.30C76.75,110.38 77.62,111.30 78.50,112.50C79.38,113.70 80.42,115.83 80.80,116.50"/><path d="M19.80,38.00C20.33,38.73 22.03,40.40 23.00,42.40C23.97,44.40 24.77,47.57 25.60,50.00C26.43,52.43 27.03,54.67 28.00,57.00C28.97,59.33 30.23,61.83 31.40,64.00C32.57,66.17 33.73,68.17 35.00,70.00C36.27,71.83 37.67,73.33 39.00,75.00C40.33,76.67 41.58,78.58 43.00,80.00C44.42,81.42 46.17,82.57 47.50,83.50C48.83,84.43 49.58,84.85 51.00,85.60C52.42,86.35 54.40,87.20 56.00,88.00C57.60,88.80 58.93,89.57 60.60,90.40C62.27,91.23 64.27,92.07 66.00,93.00C67.73,93.93 69.50,95.00 71.00,96.00C72.50,97.00 73.67,97.93 75.00,99.00C76.33,100.07 77.40,101.17 79.00,102.40C80.60,103.63 83.67,105.73 84.60,106.40" stroke-width="1.5"/><path d="M26.00,48.00C26.17,47.17 26.50,44.60 27.00,43.00C27.50,41.40 27.73,40.10 29.00,38.40C30.27,36.70 32.33,34.53 34.60,32.80C36.87,31.07 40.07,29.07 42.60,28.00C45.13,26.93 47.73,26.85 49.80,26.40C51.87,25.95 53.13,25.50 55.00,25.30C56.87,25.10 59.00,25.12 61.00,25.20C63.00,25.28 65.00,25.47 67.00,25.80C69.00,26.13 71.00,26.57 73.00,27.20C75.00,27.83 76.83,28.55 79.00,29.60C81.17,30.65 83.33,31.85 86.00,33.50C88.67,35.15 92.17,37.42 95.00,39.50C97.83,41.58 100.67,43.92 103.00,46.00C105.33,48.08 107.47,50.00 109.00,52.00C110.53,54.00 111.27,56.00 112.20,58.00C113.13,60.00 114.07,62.13 114.60,64.00C115.13,65.87 115.53,66.87 115.40,69.20C115.27,71.53 114.87,75.47 113.80,78.00C112.73,80.53 111.13,82.53 109.00,84.40C106.87,86.27 103.67,87.97 101.00,89.20C98.33,90.43 95.83,91.13 93.00,91.80C90.17,92.47 87.10,93.07 84.00,93.20C80.90,93.33 77.40,92.90 74.40,92.60C71.40,92.30 68.40,91.95 66.00,91.40C63.60,90.85 61.00,89.65 60.00,89.30"/><path d="M34.60,50.00C34.20,52.43 34.53,53.33 35.00,55.00C35.47,56.67 36.07,57.83 37.40,60.00C38.73,62.17 41.40,66.13 43.00,68.00C44.60,69.87 45.27,69.87 47.00,71.20C48.73,72.53 50.33,74.27 53.40,76.00C56.47,77.73 61.53,80.13 65.40,81.60C69.27,83.07 73.17,84.10 76.60,84.80C80.03,85.50 83.27,85.87 86.00,85.80C88.73,85.73 90.37,85.17 93.00,84.40C95.63,83.63 99.40,82.53 101.80,81.20C104.20,79.87 106.00,78.27 107.40,76.40C108.80,74.53 109.70,72.07 110.20,70.00C110.70,67.93 110.47,65.73 110.40,64.00C110.33,62.27 110.53,61.77 109.80,59.60C109.07,57.43 107.80,53.60 106.00,51.00C104.20,48.40 101.50,46.17 99.00,44.00C96.50,41.83 93.67,39.95 91.00,38.00C88.33,36.05 85.67,33.82 83.00,32.30C80.33,30.78 77.67,29.73 75.00,28.90C72.33,28.07 69.67,27.57 67.00,27.30C64.33,27.03 61.67,27.10 59.00,27.30C56.33,27.50 53.67,27.52 51.00,28.50C48.33,29.48 45.27,31.22 43.00,33.20C40.73,35.18 38.80,37.60 37.40,40.40C36.00,43.20 35.00,47.57 34.60,50.00Z"/><path d="M39.40,50.00C39.12,52.33 39.90,54.17 40.50,56.00C41.10,57.83 41.92,59.27 43.00,61.00C44.08,62.73 45.67,64.98 47.00,66.40C48.33,67.82 48.73,68.20 51.00,69.50C53.27,70.80 57.13,72.68 60.60,74.20C64.07,75.72 68.07,77.57 71.80,78.60C75.53,79.63 79.47,80.23 83.00,80.40C86.53,80.57 90.80,80.00 93.00,79.60C95.20,79.20 94.73,78.80 96.20,78.00C97.67,77.20 100.33,76.13 101.80,74.80C103.27,73.47 104.33,72.13 105.00,70.00C105.67,67.87 105.88,64.50 105.80,62.00C105.72,59.50 105.47,57.42 104.50,55.00C103.53,52.58 101.92,49.83 100.00,47.50C98.08,45.17 95.50,43.05 93.00,41.00C90.50,38.95 87.60,36.73 85.00,35.20C82.40,33.67 80.00,32.63 77.40,31.80C74.80,30.97 72.07,30.47 69.40,30.20C66.73,29.93 64.07,29.93 61.40,30.20C58.73,30.47 55.80,30.90 53.40,31.80C51.00,32.70 48.87,33.90 47.00,35.60C45.13,37.30 43.47,39.60 42.20,42.00C40.93,44.40 39.68,47.67 39.40,50.00Z"/><path d="M48.00,22.30C48.83,22.42 51.17,22.78 53.00,23.00C54.83,23.22 56.67,23.23 59.00,23.60C61.33,23.97 64.33,24.60 67.00,25.20C69.67,25.80 72.33,26.50 75.00,27.20C77.67,27.90 80.50,28.60 83.00,29.40C85.50,30.20 87.50,30.82 90.00,32.00C92.50,33.18 95.33,34.83 98.00,36.50C100.67,38.17 103.67,40.08 106.00,42.00C108.33,43.92 110.33,46.00 112.00,48.00C113.67,50.00 114.90,51.67 116.00,54.00C117.10,56.33 117.90,58.93 118.60,62.00C119.30,65.07 119.80,68.40 120.20,72.40C120.60,76.40 120.87,83.73 121.00,86.00"/><path d="M114.60,57.20C115.27,59.73 117.53,67.60 118.60,72.40C119.67,77.20 120.47,81.73 121.00,86.00C121.53,90.27 121.80,94.67 121.80,98.00C121.80,101.33 121.67,104.00 121.00,106.00C120.33,108.00 118.33,109.33 117.80,110.00"/><path d="M9.80,33.20C11.00,32.33 14.47,29.53 17.00,28.00C19.53,26.47 22.27,25.40 25.00,24.00C27.73,22.60 30.93,20.43 33.40,19.60C35.87,18.77 38.20,19.03 39.80,19.00C41.40,18.97 41.63,18.85 43.00,19.40C44.37,19.95 47.17,21.82 48.00,22.30"/><path d="M19.80,38.00C20.93,37.13 24.40,34.37 26.60,32.80C28.80,31.23 30.77,29.80 33.00,28.60C35.23,27.40 37.67,26.50 40.00,25.60C42.33,24.70 44.83,23.67 47.00,23.20C49.17,22.73 52.00,22.87 53.00,22.80"/><path d="M9.80,33.20 L8.60,41.20 L17.80,45.60 L19.80,38.00Z"/><path d="M78.50,111.20 L84.60,106.60 L88.80,116.80 L81.00,116.80Z"/><path d="M84.60,106.60C86.50,106.20 92.10,105.30 96.00,104.20C99.90,103.10 104.77,101.53 108.00,100.00C111.23,98.47 113.30,97.17 115.40,95.00C117.50,92.83 119.73,88.33 120.60,87.00"/><path d="M122.00,95.20C121.97,96.60 122.73,101.20 121.80,103.60C120.87,106.00 119.10,107.90 116.40,109.60C113.70,111.30 110.20,112.60 105.60,113.80C101.00,115.00 91.60,116.30 88.80,116.80"/></g></g>
<clipPath id="st3"><path d="M27.30,34.50 L40.70,24.70 L125.30,72.00 L126.80,73.50 L126.60,76.50 L124.00,80.00 L117.30,82.50Z"/></clipPath><clipPath id="sc3"><path d="M43.00,47.50C42.72,49.83 43.50,51.67 44.10,53.50C44.70,55.33 45.52,56.77 46.60,58.50C47.68,60.23 49.27,62.48 50.60,63.90C51.93,65.32 52.33,65.70 54.60,67.00C56.87,68.30 60.73,70.18 64.20,71.70C67.67,73.22 71.67,75.07 75.40,76.10C79.13,77.13 83.07,77.73 86.60,77.90C90.13,78.07 94.40,77.50 96.60,77.10C98.80,76.70 98.33,76.30 99.80,75.50C101.27,74.70 103.93,73.63 105.40,72.30C106.87,70.97 107.93,69.63 108.60,67.50C109.27,65.37 109.48,62.00 109.40,59.50C109.32,57.00 109.07,54.92 108.10,52.50C107.13,50.08 105.52,47.33 103.60,45.00C101.68,42.67 99.10,40.55 96.60,38.50C94.10,36.45 91.20,34.23 88.60,32.70C86.00,31.17 83.60,30.13 81.00,29.30C78.40,28.47 75.67,27.97 73.00,27.70C70.33,27.43 67.67,27.43 65.00,27.70C62.33,27.97 59.40,28.40 57.00,29.30C54.60,30.20 52.47,31.40 50.60,33.10C48.73,34.80 47.07,37.10 45.80,39.50C44.53,41.90 43.28,45.17 43.00,47.50Z"/></clipPath>
<path d="M27.30,34.50 L40.70,24.70 L125.30,72.00 L126.80,73.50 L126.60,76.50 L124.00,80.00 L117.30,82.50Z" fill="#fff"/>
<g clip-path="url(#st3)"><g clip-path="url(#sc3)"><rect x="51" y="10" width="5.6" height="80" fill="#d2ecf5"/><rect x="73.4" y="10" width="60" height="80" fill="#d2ecf5"/></g><path d="M43.00,47.50C42.72,49.83 43.50,51.67 44.10,53.50C44.70,55.33 45.52,56.77 46.60,58.50C47.68,60.23 49.27,62.48 50.60,63.90C51.93,65.32 52.33,65.70 54.60,67.00C56.87,68.30 60.73,70.18 64.20,71.70C67.67,73.22 71.67,75.07 75.40,76.10C79.13,77.13 83.07,77.73 86.60,77.90C90.13,78.07 94.40,77.50 96.60,77.10C98.80,76.70 98.33,76.30 99.80,75.50C101.27,74.70 103.93,73.63 105.40,72.30C106.87,70.97 107.93,69.63 108.60,67.50C109.27,65.37 109.48,62.00 109.40,59.50C109.32,57.00 109.07,54.92 108.10,52.50C107.13,50.08 105.52,47.33 103.60,45.00C101.68,42.67 99.10,40.55 96.60,38.50C94.10,36.45 91.20,34.23 88.60,32.70C86.00,31.17 83.60,30.13 81.00,29.30C78.40,28.47 75.67,27.97 73.00,27.70C70.33,27.43 67.67,27.43 65.00,27.70C62.33,27.97 59.40,28.40 57.00,29.30C54.60,30.20 52.47,31.40 50.60,33.10C48.73,34.80 47.07,37.10 45.80,39.50C44.53,41.90 43.28,45.17 43.00,47.50Z" fill="none" stroke="#333333" stroke-width="1.0"/></g>
<path d="M27.30,34.50 L40.70,24.70 L125.30,72.00 L126.80,73.50 L126.60,76.50 L124.00,80.00 L117.30,82.50Z" fill="none" stroke="#333333" stroke-width="1.1" stroke-linejoin="round"/>
<path d="M75.30,44.70 L76.00,50.00 L80.70,53.30 L90.00,54.00 L100.70,50.00 L106.70,46.70 L112.00,41.30 L120.00,37.30 L130.70,32.00 L137.30,30.00 L146.70,30.00 L157.30,30.00 L165.30,32.00 L173.30,36.00 L182.00,40.00 L182.00,-2.00 L176.00,-2.00 L166.70,1.30 L154.70,3.30 L140.00,6.00 L126.70,9.30 L113.30,14.70 L103.30,22.00 L95.30,27.30 L90.00,34.00 L80.00,40.00Z" fill="#fff"/>
<path d="M90.00,34.00C90.88,32.88 93.08,29.30 95.30,27.30C97.52,25.30 100.30,24.10 103.30,22.00C106.30,19.90 109.40,16.82 113.30,14.70C117.20,12.58 122.25,10.75 126.70,9.30C131.15,7.85 135.33,7.00 140.00,6.00C144.67,5.00 150.25,4.08 154.70,3.30C159.15,2.52 163.15,1.85 166.70,1.30C170.25,0.75 174.45,0.22 176.00,0.00" fill="none" stroke="#333333" stroke-width="1.1" stroke-linecap="round" stroke-linejoin="round"/>
<path d="M75.50,45.00C75.58,45.83 75.13,48.62 76.00,50.00C76.87,51.38 78.37,52.63 80.70,53.30C83.03,53.97 86.67,54.55 90.00,54.00C93.33,53.45 97.92,51.22 100.70,50.00C103.48,48.78 104.82,48.15 106.70,46.70C108.58,45.25 109.78,42.87 112.00,41.30C114.22,39.73 116.88,38.85 120.00,37.30C123.12,35.75 127.82,33.22 130.70,32.00C133.58,30.78 134.63,30.33 137.30,30.00C139.97,29.67 143.37,30.00 146.70,30.00C150.03,30.00 154.20,29.67 157.30,30.00C160.40,30.33 162.63,31.00 165.30,32.00C167.97,33.00 170.85,34.67 173.30,36.00C175.75,37.33 178.88,39.33 180.00,40.00" fill="none" stroke="#333333" stroke-width="1.1" stroke-linecap="round" stroke-linejoin="round"/>
<path d="M76.00,44.70C76.67,43.80 78.58,42.63 80.70,41.30C82.82,39.97 87.03,37.13 88.70,36.70C90.37,36.27 90.70,37.82 90.70,38.70C90.70,39.58 90.37,40.67 88.70,42.00C87.03,43.33 82.70,45.92 80.70,46.70C78.70,47.48 77.48,47.03 76.70,46.70C75.92,46.37 75.33,45.60 76.00,44.70Z" fill="none" stroke="#333333" stroke-width="1.0" stroke-linecap="round" stroke-linejoin="round"/>
<path d="M129.30,24.00L132.00,29.30" fill="none" stroke="#333333" stroke-width="1.1" stroke-linecap="round" stroke-linejoin="round"/>
<path d="M158.70,22.00L160.00,28.70" fill="none" stroke="#333333" stroke-width="1.1" stroke-linecap="round" stroke-linejoin="round"/>
<path d="M137.30,30.70C136.87,31.80 135.13,34.87 134.70,37.30C134.27,39.73 134.03,42.63 134.70,45.30C135.37,47.97 136.70,50.85 138.70,53.30C140.70,55.75 144.03,58.00 146.70,60.00C149.37,62.00 152.03,63.97 154.70,65.30C157.37,66.63 160.03,67.77 162.70,68.00C165.37,68.23 168.48,67.37 170.70,66.70C172.92,66.03 174.67,64.90 176.00,64.00C177.33,63.10 178.25,61.75 178.70,61.30" fill="none" stroke="#333333" stroke-width="1.1" stroke-linecap="round" stroke-linejoin="round"/>
<path d="M149.30,41.30C151.08,41.53 157.10,43.37 160.00,42.70C162.90,42.03 165.15,38.87 166.70,37.30C168.25,35.73 168.87,33.97 169.30,33.30" fill="none" stroke="#333333" stroke-width="1.1" stroke-linecap="round" stroke-linejoin="round"/>
<path d="M160.00,42.70C160.88,43.80 164.18,47.53 165.30,49.30C166.42,51.07 166.47,52.63 166.70,53.30" fill="none" stroke="#333333" stroke-width="1.1" stroke-linecap="round" stroke-linejoin="round"/>
<path d="M161.30,54.70C162.87,54.47 167.80,53.08 170.70,53.30C173.60,53.52 177.37,55.55 178.70,56.00" fill="none" stroke="#333333" stroke-width="1.1" stroke-linecap="round" stroke-linejoin="round"/>
<path d="M176.00,68.00C175.55,68.00 175.52,67.78 173.30,68.00C171.08,68.22 165.80,68.63 162.70,69.30C159.60,69.97 156.48,70.43 154.70,72.00C152.92,73.57 152.37,77.03 152.00,78.70C151.63,80.37 152.05,80.67 152.50,82.00C152.95,83.33 153.45,85.48 154.70,86.70C155.95,87.92 156.90,89.30 160.00,89.30C163.10,89.30 170.30,87.25 173.30,86.70C176.30,86.15 177.22,86.12 178.00,86.00" fill="none" stroke="#333333" stroke-width="1.1" stroke-linecap="round" stroke-linejoin="round"/>
<path d="M154.70,80.00C156.47,79.78 162.63,78.25 165.30,78.70C167.97,79.15 169.80,82.03 170.70,82.70" fill="none" stroke="#333333" stroke-width="1.1" stroke-linecap="round" stroke-linejoin="round"/></g></g>
<clipPath id="c4"><rect x="283" y="420" width="179" height="128.5" rx="6"/></clipPath><g clip-path="url(#c4)"><g transform="translate(283,420)"><g transform="translate(1,0)"><path d="M17.80,45.60 L19.80,50.00 L21.50,56.00 L23.40,64.00 L25.40,72.00 L27.40,76.00 L29.50,80.50 L32.50,84.00 L36.00,87.20 L41.00,91.00 L47.00,95.20 L53.00,97.80 L59.00,100.00 L66.00,103.00 L71.00,106.00 L75.50,109.30 L78.50,112.50 L80.80,116.50 L81.00,116.80 L88.80,116.80 L105.60,113.80 L116.40,109.60 L121.80,103.60 L122.40,95.20 L121.00,86.00 L121.00,86.00 L120.20,72.40 L118.60,62.00 L116.00,54.00 L112.00,48.00 L106.00,42.00 L98.00,36.50 L90.00,32.00 L83.00,29.40 L75.00,27.20 L67.00,25.20 L59.00,23.60 L53.00,23.00 L48.00,22.30 L39.80,19.00 L33.40,19.60 L25.00,24.00 L17.00,28.00 L9.80,33.20 L8.60,41.20Z" fill="#fff" stroke="none"/>
<path d="M9.80,33.20C9.52,32.20 15.48,28.92 17.00,28.00C18.52,27.08 23.36,24.84 25.00,24.00C26.64,23.16 31.92,20.10 33.40,19.60C34.88,19.10 38.84,19.02 39.80,19.00C40.76,18.98 42.18,19.07 43.00,19.40C43.82,19.73 47.60,21.92 48.00,22.30C48.40,22.68 47.80,22.87 47.00,23.20C46.20,23.53 41.40,25.06 40.00,25.60C38.60,26.14 34.34,27.88 33.00,28.60C31.66,29.32 27.92,31.86 26.60,32.80C25.28,33.74 21.48,37.96 19.80,38.00C18.12,38.04 10.08,34.20 9.80,33.20Z" fill="#e6e6e6"/>
<path d="M9.80,33.20 L8.60,41.20 L17.80,45.60 L19.80,38.00Z" fill="#e6e6e6"/>
<path d="M78.50,111.20 L84.60,106.60 L88.80,116.80 L81.00,116.80Z" fill="#e6e6e6"/>
<path d="M84.60,106.60 L96.00,104.20 L108.00,100.00 L115.40,95.00 L120.60,87.00 L122.00,95.20 L121.80,103.60 L116.40,109.60 L105.60,113.80 L88.80,116.80Z" fill="#e6e6e6"/>
<clipPath id="scr4"><path d="M39.40,50.00C39.12,52.33 39.90,54.17 40.50,56.00C41.10,57.83 41.92,59.27 43.00,61.00C44.08,62.73 45.67,64.98 47.00,66.40C48.33,67.82 48.73,68.20 51.00,69.50C53.27,70.80 57.13,72.68 60.60,74.20C64.07,75.72 68.07,77.57 71.80,78.60C75.53,79.63 79.47,80.23 83.00,80.40C86.53,80.57 90.80,80.00 93.00,79.60C95.20,79.20 94.73,78.80 96.20,78.00C97.67,77.20 100.33,76.13 101.80,74.80C103.27,73.47 104.33,72.13 105.00,70.00C105.67,67.87 105.88,64.50 105.80,62.00C105.72,59.50 105.47,57.42 104.50,55.00C103.53,52.58 101.92,49.83 100.00,47.50C98.08,45.17 95.50,43.05 93.00,41.00C90.50,38.95 87.60,36.73 85.00,35.20C82.40,33.67 80.00,32.63 77.40,31.80C74.80,30.97 72.07,30.47 69.40,30.20C66.73,29.93 64.07,29.93 61.40,30.20C58.73,30.47 55.80,30.90 53.40,31.80C51.00,32.70 48.87,33.90 47.00,35.60C45.13,37.30 43.47,39.60 42.20,42.00C40.93,44.40 39.68,47.67 39.40,50.00Z"/></clipPath>
<rect x="48.4" y="20" width="4.0" height="70" fill="#d2ecf5" clip-path="url(#scr4)"/>
<rect x="71.8" y="20" width="53.2" height="70" fill="#d2ecf5" clip-path="url(#scr4)"/>
<g fill="none" stroke="#333333" stroke-width="1.1" stroke-linecap="round" stroke-linejoin="round"><path d="M17.80,45.60C18.13,46.33 19.18,48.27 19.80,50.00C20.42,51.73 20.90,53.67 21.50,56.00C22.10,58.33 22.75,61.33 23.40,64.00C24.05,66.67 24.73,70.00 25.40,72.00C26.07,74.00 26.72,74.58 27.40,76.00C28.08,77.42 28.65,79.17 29.50,80.50C30.35,81.83 31.42,82.88 32.50,84.00C33.58,85.12 34.58,86.03 36.00,87.20C37.42,88.37 39.17,89.67 41.00,91.00C42.83,92.33 45.00,94.07 47.00,95.20C49.00,96.33 51.00,97.00 53.00,97.80C55.00,98.60 56.83,99.13 59.00,100.00C61.17,100.87 64.00,102.00 66.00,103.00C68.00,104.00 69.42,104.95 71.00,106.00C72.58,107.05 74.25,108.22 75.50,109.30C76.75,110.38 77.62,111.30 78.50,112.50C79.38,113.70 80.42,115.83 80.80,116.50"/><path d="M19.80,38.00C20.33,38.73 22.03,40.40 23.00,42.40C23.97,44.40 24.77,47.57 25.60,50.00C26.43,52.43 27.03,54.67 28.00,57.00C28.97,59.33 30.23,61.83 31.40,64.00C32.57,66.17 33.73,68.17 35.00,70.00C36.27,71.83 37.67,73.33 39.00,75.00C40.33,76.67 41.58,78.58 43.00,80.00C44.42,81.42 46.17,82.57 47.50,83.50C48.83,84.43 49.58,84.85 51.00,85.60C52.42,86.35 54.40,87.20 56.00,88.00C57.60,88.80 58.93,89.57 60.60,90.40C62.27,91.23 64.27,92.07 66.00,93.00C67.73,93.93 69.50,95.00 71.00,96.00C72.50,97.00 73.67,97.93 75.00,99.00C76.33,100.07 77.40,101.17 79.00,102.40C80.60,103.63 83.67,105.73 84.60,106.40" stroke-width="1.5"/><path d="M26.00,48.00C26.17,47.17 26.50,44.60 27.00,43.00C27.50,41.40 27.73,40.10 29.00,38.40C30.27,36.70 32.33,34.53 34.60,32.80C36.87,31.07 40.07,29.07 42.60,28.00C45.13,26.93 47.73,26.85 49.80,26.40C51.87,25.95 53.13,25.50 55.00,25.30C56.87,25.10 59.00,25.12 61.00,25.20C63.00,25.28 65.00,25.47 67.00,25.80C69.00,26.13 71.00,26.57 73.00,27.20C75.00,27.83 76.83,28.55 79.00,29.60C81.17,30.65 83.33,31.85 86.00,33.50C88.67,35.15 92.17,37.42 95.00,39.50C97.83,41.58 100.67,43.92 103.00,46.00C105.33,48.08 107.47,50.00 109.00,52.00C110.53,54.00 111.27,56.00 112.20,58.00C113.13,60.00 114.07,62.13 114.60,64.00C115.13,65.87 115.53,66.87 115.40,69.20C115.27,71.53 114.87,75.47 113.80,78.00C112.73,80.53 111.13,82.53 109.00,84.40C106.87,86.27 103.67,87.97 101.00,89.20C98.33,90.43 95.83,91.13 93.00,91.80C90.17,92.47 87.10,93.07 84.00,93.20C80.90,93.33 77.40,92.90 74.40,92.60C71.40,92.30 68.40,91.95 66.00,91.40C63.60,90.85 61.00,89.65 60.00,89.30"/><path d="M34.60,50.00C34.20,52.43 34.53,53.33 35.00,55.00C35.47,56.67 36.07,57.83 37.40,60.00C38.73,62.17 41.40,66.13 43.00,68.00C44.60,69.87 45.27,69.87 47.00,71.20C48.73,72.53 50.33,74.27 53.40,76.00C56.47,77.73 61.53,80.13 65.40,81.60C69.27,83.07 73.17,84.10 76.60,84.80C80.03,85.50 83.27,85.87 86.00,85.80C88.73,85.73 90.37,85.17 93.00,84.40C95.63,83.63 99.40,82.53 101.80,81.20C104.20,79.87 106.00,78.27 107.40,76.40C108.80,74.53 109.70,72.07 110.20,70.00C110.70,67.93 110.47,65.73 110.40,64.00C110.33,62.27 110.53,61.77 109.80,59.60C109.07,57.43 107.80,53.60 106.00,51.00C104.20,48.40 101.50,46.17 99.00,44.00C96.50,41.83 93.67,39.95 91.00,38.00C88.33,36.05 85.67,33.82 83.00,32.30C80.33,30.78 77.67,29.73 75.00,28.90C72.33,28.07 69.67,27.57 67.00,27.30C64.33,27.03 61.67,27.10 59.00,27.30C56.33,27.50 53.67,27.52 51.00,28.50C48.33,29.48 45.27,31.22 43.00,33.20C40.73,35.18 38.80,37.60 37.40,40.40C36.00,43.20 35.00,47.57 34.60,50.00Z"/><path d="M39.40,50.00C39.12,52.33 39.90,54.17 40.50,56.00C41.10,57.83 41.92,59.27 43.00,61.00C44.08,62.73 45.67,64.98 47.00,66.40C48.33,67.82 48.73,68.20 51.00,69.50C53.27,70.80 57.13,72.68 60.60,74.20C64.07,75.72 68.07,77.57 71.80,78.60C75.53,79.63 79.47,80.23 83.00,80.40C86.53,80.57 90.80,80.00 93.00,79.60C95.20,79.20 94.73,78.80 96.20,78.00C97.67,77.20 100.33,76.13 101.80,74.80C103.27,73.47 104.33,72.13 105.00,70.00C105.67,67.87 105.88,64.50 105.80,62.00C105.72,59.50 105.47,57.42 104.50,55.00C103.53,52.58 101.92,49.83 100.00,47.50C98.08,45.17 95.50,43.05 93.00,41.00C90.50,38.95 87.60,36.73 85.00,35.20C82.40,33.67 80.00,32.63 77.40,31.80C74.80,30.97 72.07,30.47 69.40,30.20C66.73,29.93 64.07,29.93 61.40,30.20C58.73,30.47 55.80,30.90 53.40,31.80C51.00,32.70 48.87,33.90 47.00,35.60C45.13,37.30 43.47,39.60 42.20,42.00C40.93,44.40 39.68,47.67 39.40,50.00Z"/><path d="M48.00,22.30C48.83,22.42 51.17,22.78 53.00,23.00C54.83,23.22 56.67,23.23 59.00,23.60C61.33,23.97 64.33,24.60 67.00,25.20C69.67,25.80 72.33,26.50 75.00,27.20C77.67,27.90 80.50,28.60 83.00,29.40C85.50,30.20 87.50,30.82 90.00,32.00C92.50,33.18 95.33,34.83 98.00,36.50C100.67,38.17 103.67,40.08 106.00,42.00C108.33,43.92 110.33,46.00 112.00,48.00C113.67,50.00 114.90,51.67 116.00,54.00C117.10,56.33 117.90,58.93 118.60,62.00C119.30,65.07 119.80,68.40 120.20,72.40C120.60,76.40 120.87,83.73 121.00,86.00"/><path d="M114.60,57.20C115.27,59.73 117.53,67.60 118.60,72.40C119.67,77.20 120.47,81.73 121.00,86.00C121.53,90.27 121.80,94.67 121.80,98.00C121.80,101.33 121.67,104.00 121.00,106.00C120.33,108.00 118.33,109.33 117.80,110.00"/><path d="M9.80,33.20C11.00,32.33 14.47,29.53 17.00,28.00C19.53,26.47 22.27,25.40 25.00,24.00C27.73,22.60 30.93,20.43 33.40,19.60C35.87,18.77 38.20,19.03 39.80,19.00C41.40,18.97 41.63,18.85 43.00,19.40C44.37,19.95 47.17,21.82 48.00,22.30"/><path d="M19.80,38.00C20.93,37.13 24.40,34.37 26.60,32.80C28.80,31.23 30.77,29.80 33.00,28.60C35.23,27.40 37.67,26.50 40.00,25.60C42.33,24.70 44.83,23.67 47.00,23.20C49.17,22.73 52.00,22.87 53.00,22.80"/><path d="M9.80,33.20 L8.60,41.20 L17.80,45.60 L19.80,38.00Z"/><path d="M78.50,111.20 L84.60,106.60 L88.80,116.80 L81.00,116.80Z"/><path d="M84.60,106.60C86.50,106.20 92.10,105.30 96.00,104.20C99.90,103.10 104.77,101.53 108.00,100.00C111.23,98.47 113.30,97.17 115.40,95.00C117.50,92.83 119.73,88.33 120.60,87.00"/><path d="M122.00,95.20C121.97,96.60 122.73,101.20 121.80,103.60C120.87,106.00 119.10,107.90 116.40,109.60C113.70,111.30 110.20,112.60 105.60,113.80C101.00,115.00 91.60,116.30 88.80,116.80"/></g></g>
<clipPath id="st4"><path d="M68.60,56.50C68.72,56.08 69.32,54.64 69.60,54.40C69.88,54.16 69.88,52.88 72.00,53.60C74.12,54.32 90.88,61.36 95.00,63.00C99.12,64.64 119.12,72.20 121.50,73.30C123.88,74.40 123.52,75.62 123.60,76.20C123.67,76.78 122.87,79.59 122.40,80.20C121.93,80.81 118.78,83.17 118.00,83.50C117.22,83.83 117.04,86.03 113.00,84.20C108.96,82.38 73.23,63.66 69.50,61.60C65.77,59.54 68.28,59.92 68.20,59.50C68.12,59.08 68.48,56.92 68.60,56.50Z"/><path d="M69.30,54.60C69.14,54.11 71.63,49.03 72.10,48.10C72.57,47.17 74.35,44.02 74.90,43.40C75.45,42.77 77.92,40.99 78.70,40.60C79.48,40.21 83.36,38.93 84.30,38.70C85.24,38.47 88.94,37.44 90.00,37.80C91.06,38.16 96.17,42.15 97.00,43.00C97.83,43.85 101.00,47.38 100.00,48.00C99.00,48.62 87.17,50.00 85.00,50.50C82.83,51.00 75.31,53.66 74.00,54.00C72.69,54.34 69.46,55.09 69.30,54.60Z"/></clipPath>
<path d="M68.60,56.50C68.72,56.08 69.32,54.64 69.60,54.40C69.88,54.16 69.88,52.88 72.00,53.60C74.12,54.32 90.88,61.36 95.00,63.00C99.12,64.64 119.12,72.20 121.50,73.30C123.88,74.40 123.52,75.62 123.60,76.20C123.67,76.78 122.87,79.59 122.40,80.20C121.93,80.81 118.78,83.17 118.00,83.50C117.22,83.83 117.04,86.03 113.00,84.20C108.96,82.38 73.23,63.66 69.50,61.60C65.77,59.54 68.28,59.92 68.20,59.50C68.12,59.08 68.48,56.92 68.60,56.50Z" fill="#fff"/>
<path d="M69.30,54.60C69.14,54.11 71.63,49.03 72.10,48.10C72.57,47.17 74.35,44.02 74.90,43.40C75.45,42.77 77.92,40.99 78.70,40.60C79.48,40.21 83.36,38.93 84.30,38.70C85.24,38.47 88.94,37.44 90.00,37.80C91.06,38.16 96.17,42.15 97.00,43.00C97.83,43.85 101.00,47.38 100.00,48.00C99.00,48.62 87.17,50.00 85.00,50.50C82.83,51.00 75.31,53.66 74.00,54.00C72.69,54.34 69.46,55.09 69.30,54.60Z" fill="#fff"/>
<g clip-path="url(#st4)"><path d="M40.40,50.00C40.12,52.33 40.90,54.17 41.50,56.00C42.10,57.83 42.92,59.27 44.00,61.00C45.08,62.73 46.67,64.98 48.00,66.40C49.33,67.82 49.73,68.20 52.00,69.50C54.27,70.80 58.13,72.68 61.60,74.20C65.07,75.72 69.07,77.57 72.80,78.60C76.53,79.63 80.47,80.23 84.00,80.40C87.53,80.57 91.80,80.00 94.00,79.60C96.20,79.20 95.73,78.80 97.20,78.00C98.67,77.20 101.33,76.13 102.80,74.80C104.27,73.47 105.33,72.13 106.00,70.00C106.67,67.87 106.88,64.50 106.80,62.00C106.72,59.50 106.47,57.42 105.50,55.00C104.53,52.58 102.92,49.83 101.00,47.50C99.08,45.17 96.50,43.05 94.00,41.00C91.50,38.95 88.60,36.73 86.00,35.20C83.40,33.67 81.00,32.63 78.40,31.80C75.80,30.97 73.07,30.47 70.40,30.20C67.73,29.93 65.07,29.93 62.40,30.20C59.73,30.47 56.80,30.90 54.40,31.80C52.00,32.70 49.87,33.90 48.00,35.60C46.13,37.30 44.47,39.60 43.20,42.00C41.93,44.40 40.68,47.67 40.40,50.00Z" fill="#cfe5ef" stroke="#333333" stroke-width="1.0"/></g>
<path d="M68.60,56.50C68.72,56.08 69.32,54.64 69.60,54.40C69.88,54.16 69.88,52.88 72.00,53.60C74.12,54.32 90.88,61.36 95.00,63.00C99.12,64.64 119.12,72.20 121.50,73.30C123.88,74.40 123.52,75.62 123.60,76.20C123.67,76.78 122.87,79.59 122.40,80.20C121.93,80.81 118.78,83.17 118.00,83.50C117.22,83.83 117.04,86.03 113.00,84.20C108.96,82.38 73.23,63.66 69.50,61.60C65.77,59.54 68.28,59.92 68.20,59.50C68.12,59.08 68.48,56.92 68.60,56.50Z" fill="none" stroke="#333333" stroke-width="1.1" stroke-linecap="round" stroke-linejoin="round"/>
<path d="M69.30,54.60C69.14,54.11 71.63,49.03 72.10,48.10C72.57,47.17 74.35,44.02 74.90,43.40C75.45,42.77 77.92,40.99 78.70,40.60C79.48,40.21 83.36,38.93 84.30,38.70C85.24,38.47 88.94,37.44 90.00,37.80C91.06,38.16 96.17,42.15 97.00,43.00C97.83,43.85 101.00,47.38 100.00,48.00C99.00,48.62 87.17,50.00 85.00,50.50C82.83,51.00 75.31,53.66 74.00,54.00C72.69,54.34 69.46,55.09 69.30,54.60Z" fill="none" stroke="#333333" stroke-width="1.1" stroke-linecap="round" stroke-linejoin="round"/>
<path d="M72.50,47.00C73.08,47.67 74.08,50.20 76.00,51.00C77.92,51.80 80.83,52.13 84.00,51.80C87.17,51.47 92.33,49.63 95.00,49.00C97.67,48.37 99.17,48.17 100.00,48.00" fill="none" stroke="#333333" stroke-width="1.0" stroke-linecap="round" stroke-linejoin="round"/>
<path d="M89.60,43.20 L90.40,38.40 L95.20,33.60 L96.00,24.00 L96.80,16.00 L101.60,9.60 L111.20,3.20 L116.00,-2.00 L182.00,-2.00 L182.00,64.80 L172.00,64.80 L159.20,62.40 L149.60,57.60 L140.00,56.00 L127.20,55.20 L112.80,52.80 L103.20,48.00 L100.00,49.60 L93.60,48.00Z" fill="#fff"/>
<path d="M95.20,33.60C95.33,32.00 95.73,26.93 96.00,24.00C96.27,21.07 95.87,18.40 96.80,16.00C97.73,13.60 99.20,11.73 101.60,9.60C104.00,7.47 108.80,4.80 111.20,3.20C113.60,1.60 115.20,0.53 116.00,0.00" fill="none" stroke="#333333" stroke-width="1.1" stroke-linecap="round" stroke-linejoin="round"/>
<path d="M90.40,38.40C91.33,36.80 93.07,34.40 95.20,33.60C97.33,32.80 101.60,33.07 103.20,33.60C104.80,34.13 104.67,34.67 104.80,36.80C104.93,38.93 104.80,44.27 104.00,46.40C103.20,48.53 101.73,49.33 100.00,49.60C98.27,49.87 95.33,49.07 93.60,48.00C91.87,46.93 90.13,44.80 89.60,43.20C89.07,41.60 89.47,40.00 90.40,38.40Z" fill="none" stroke="#333333" stroke-width="1.0" stroke-linecap="round" stroke-linejoin="round"/>
<path d="M103.20,48.00C104.80,48.80 108.80,51.60 112.80,52.80C116.80,54.00 122.67,54.67 127.20,55.20C131.73,55.73 136.27,55.60 140.00,56.00C143.73,56.40 146.40,56.53 149.60,57.60C152.80,58.67 155.47,61.20 159.20,62.40C162.93,63.60 168.53,64.40 172.00,64.80C175.47,65.20 178.67,64.80 180.00,64.80" fill="none" stroke="#333333" stroke-width="1.1" stroke-linecap="round" stroke-linejoin="round"/>
<path d="M104.80,32.00C106.93,31.73 113.07,30.80 117.60,30.40C122.13,30.00 129.60,29.73 132.00,29.60" fill="none" stroke="#333333" stroke-width="1.1" stroke-linecap="round" stroke-linejoin="round"/>
<path d="M116.00,22.40C118.40,21.87 125.60,20.13 130.40,19.20C135.20,18.27 140.53,17.33 144.80,16.80C149.07,16.27 153.47,15.47 156.00,16.00C158.53,16.53 159.73,18.67 160.00,20.00C160.27,21.33 159.87,22.93 157.60,24.00C155.33,25.07 150.67,25.60 146.40,26.40C142.13,27.20 137.07,28.27 132.00,28.80C126.93,29.33 118.67,29.47 116.00,29.60" fill="none" stroke="#333333" stroke-width="1.1" stroke-linecap="round" stroke-linejoin="round"/>
<path d="M109.60,16.00C110.67,17.07 114.67,20.27 116.00,22.40C117.33,24.53 117.33,27.73 117.60,28.80" fill="none" stroke="#333333" stroke-width="1.1" stroke-linecap="round" stroke-linejoin="round"/>
<path d="M130.40,9.60C130.93,10.67 132.80,14.13 133.60,16.00C134.40,17.87 134.93,20.00 135.20,20.80" fill="none" stroke="#333333" stroke-width="1.1" stroke-linecap="round" stroke-linejoin="round"/>
<path d="M120.00,36.80L119.20,48.00" fill="none" stroke="#333333" stroke-width="1.1" stroke-linecap="round" stroke-linejoin="round"/>
<path d="M162.40,20.80C162.93,21.07 164.33,22.37 165.60,22.40C166.87,22.43 169.27,21.23 170.00,21.00" fill="none" stroke="#333333" stroke-width="1.1" stroke-linecap="round" stroke-linejoin="round"/></g></g>
<clipPath id="c5"><rect x="503" y="419.5" width="179" height="129.2" rx="6"/></clipPath><g clip-path="url(#c5)"><g transform="translate(503,420.0)"><path d="M17.80,45.60 L19.80,50.00 L21.50,56.00 L23.40,64.00 L25.40,72.00 L27.40,76.00 L29.50,80.50 L32.50,84.00 L36.00,87.20 L41.00,91.00 L47.00,95.20 L53.00,97.80 L59.00,100.00 L66.00,103.00 L71.00,106.00 L75.50,109.30 L78.50,112.50 L80.80,116.50 L81.00,116.80 L88.80,116.80 L105.60,113.80 L116.40,109.60 L121.80,103.60 L122.40,95.20 L121.00,86.00 L121.00,86.00 L120.20,72.40 L118.60,62.00 L116.00,54.00 L112.00,48.00 L106.00,42.00 L98.00,36.50 L90.00,32.00 L83.00,29.40 L75.00,27.20 L67.00,25.20 L59.00,23.60 L53.00,23.00 L48.00,22.30 L39.80,19.00 L33.40,19.60 L25.00,24.00 L17.00,28.00 L9.80,33.20 L8.60,41.20Z" fill="#fff" stroke="none"/>
<path d="M9.80,33.20C9.52,32.20 15.48,28.92 17.00,28.00C18.52,27.08 23.36,24.84 25.00,24.00C26.64,23.16 31.92,20.10 33.40,19.60C34.88,19.10 38.84,19.02 39.80,19.00C40.76,18.98 42.18,19.07 43.00,19.40C43.82,19.73 47.60,21.92 48.00,22.30C48.40,22.68 47.80,22.87 47.00,23.20C46.20,23.53 41.40,25.06 40.00,25.60C38.60,26.14 34.34,27.88 33.00,28.60C31.66,29.32 27.92,31.86 26.60,32.80C25.28,33.74 21.48,37.96 19.80,38.00C18.12,38.04 10.08,34.20 9.80,33.20Z" fill="#e6e6e6"/>
<path d="M9.80,33.20 L8.60,41.20 L17.80,45.60 L19.80,38.00Z" fill="#e6e6e6"/>
<path d="M78.50,111.20 L84.60,106.60 L88.80,116.80 L81.00,116.80Z" fill="#e6e6e6"/>
<path d="M84.60,106.60 L96.00,104.20 L108.00,100.00 L115.40,95.00 L120.60,87.00 L122.00,95.20 L121.80,103.60 L116.40,109.60 L105.60,113.80 L88.80,116.80Z" fill="#e6e6e6"/>
<clipPath id="scr5"><path d="M39.40,50.00C39.12,52.33 39.90,54.17 40.50,56.00C41.10,57.83 41.92,59.27 43.00,61.00C44.08,62.73 45.67,64.98 47.00,66.40C48.33,67.82 48.73,68.20 51.00,69.50C53.27,70.80 57.13,72.68 60.60,74.20C64.07,75.72 68.07,77.57 71.80,78.60C75.53,79.63 79.47,80.23 83.00,80.40C86.53,80.57 90.80,80.00 93.00,79.60C95.20,79.20 94.73,78.80 96.20,78.00C97.67,77.20 100.33,76.13 101.80,74.80C103.27,73.47 104.33,72.13 105.00,70.00C105.67,67.87 105.88,64.50 105.80,62.00C105.72,59.50 105.47,57.42 104.50,55.00C103.53,52.58 101.92,49.83 100.00,47.50C98.08,45.17 95.50,43.05 93.00,41.00C90.50,38.95 87.60,36.73 85.00,35.20C82.40,33.67 80.00,32.63 77.40,31.80C74.80,30.97 72.07,30.47 69.40,30.20C66.73,29.93 64.07,29.93 61.40,30.20C58.73,30.47 55.80,30.90 53.40,31.80C51.00,32.70 48.87,33.90 47.00,35.60C45.13,37.30 43.47,39.60 42.20,42.00C40.93,44.40 39.68,47.67 39.40,50.00Z"/></clipPath>
<rect x="49.4" y="20" width="4.0" height="70" fill="#d2ecf5" clip-path="url(#scr5)"/>
<rect x="73" y="20" width="47" height="70" fill="#d2ecf5" clip-path="url(#scr5)"/>
<g fill="none" stroke="#333333" stroke-width="1.1" stroke-linecap="round" stroke-linejoin="round"><path d="M17.80,45.60C18.13,46.33 19.18,48.27 19.80,50.00C20.42,51.73 20.90,53.67 21.50,56.00C22.10,58.33 22.75,61.33 23.40,64.00C24.05,66.67 24.73,70.00 25.40,72.00C26.07,74.00 26.72,74.58 27.40,76.00C28.08,77.42 28.65,79.17 29.50,80.50C30.35,81.83 31.42,82.88 32.50,84.00C33.58,85.12 34.58,86.03 36.00,87.20C37.42,88.37 39.17,89.67 41.00,91.00C42.83,92.33 45.00,94.07 47.00,95.20C49.00,96.33 51.00,97.00 53.00,97.80C55.00,98.60 56.83,99.13 59.00,100.00C61.17,100.87 64.00,102.00 66.00,103.00C68.00,104.00 69.42,104.95 71.00,106.00C72.58,107.05 74.25,108.22 75.50,109.30C76.75,110.38 77.62,111.30 78.50,112.50C79.38,113.70 80.42,115.83 80.80,116.50"/><path d="M19.80,38.00C20.33,38.73 22.03,40.40 23.00,42.40C23.97,44.40 24.77,47.57 25.60,50.00C26.43,52.43 27.03,54.67 28.00,57.00C28.97,59.33 30.23,61.83 31.40,64.00C32.57,66.17 33.73,68.17 35.00,70.00C36.27,71.83 37.67,73.33 39.00,75.00C40.33,76.67 41.58,78.58 43.00,80.00C44.42,81.42 46.17,82.57 47.50,83.50C48.83,84.43 49.58,84.85 51.00,85.60C52.42,86.35 54.40,87.20 56.00,88.00C57.60,88.80 58.93,89.57 60.60,90.40C62.27,91.23 64.27,92.07 66.00,93.00C67.73,93.93 69.50,95.00 71.00,96.00C72.50,97.00 73.67,97.93 75.00,99.00C76.33,100.07 77.40,101.17 79.00,102.40C80.60,103.63 83.67,105.73 84.60,106.40" stroke-width="1.5"/><path d="M26.00,48.00C26.17,47.17 26.50,44.60 27.00,43.00C27.50,41.40 27.73,40.10 29.00,38.40C30.27,36.70 32.33,34.53 34.60,32.80C36.87,31.07 40.07,29.07 42.60,28.00C45.13,26.93 47.73,26.85 49.80,26.40C51.87,25.95 53.13,25.50 55.00,25.30C56.87,25.10 59.00,25.12 61.00,25.20C63.00,25.28 65.00,25.47 67.00,25.80C69.00,26.13 71.00,26.57 73.00,27.20C75.00,27.83 76.83,28.55 79.00,29.60C81.17,30.65 83.33,31.85 86.00,33.50C88.67,35.15 92.17,37.42 95.00,39.50C97.83,41.58 100.67,43.92 103.00,46.00C105.33,48.08 107.47,50.00 109.00,52.00C110.53,54.00 111.27,56.00 112.20,58.00C113.13,60.00 114.07,62.13 114.60,64.00C115.13,65.87 115.53,66.87 115.40,69.20C115.27,71.53 114.87,75.47 113.80,78.00C112.73,80.53 111.13,82.53 109.00,84.40C106.87,86.27 103.67,87.97 101.00,89.20C98.33,90.43 95.83,91.13 93.00,91.80C90.17,92.47 87.10,93.07 84.00,93.20C80.90,93.33 77.40,92.90 74.40,92.60C71.40,92.30 68.40,91.95 66.00,91.40C63.60,90.85 61.00,89.65 60.00,89.30"/><path d="M34.60,50.00C34.20,52.43 34.53,53.33 35.00,55.00C35.47,56.67 36.07,57.83 37.40,60.00C38.73,62.17 41.40,66.13 43.00,68.00C44.60,69.87 45.27,69.87 47.00,71.20C48.73,72.53 50.33,74.27 53.40,76.00C56.47,77.73 61.53,80.13 65.40,81.60C69.27,83.07 73.17,84.10 76.60,84.80C80.03,85.50 83.27,85.87 86.00,85.80C88.73,85.73 90.37,85.17 93.00,84.40C95.63,83.63 99.40,82.53 101.80,81.20C104.20,79.87 106.00,78.27 107.40,76.40C108.80,74.53 109.70,72.07 110.20,70.00C110.70,67.93 110.47,65.73 110.40,64.00C110.33,62.27 110.53,61.77 109.80,59.60C109.07,57.43 107.80,53.60 106.00,51.00C104.20,48.40 101.50,46.17 99.00,44.00C96.50,41.83 93.67,39.95 91.00,38.00C88.33,36.05 85.67,33.82 83.00,32.30C80.33,30.78 77.67,29.73 75.00,28.90C72.33,28.07 69.67,27.57 67.00,27.30C64.33,27.03 61.67,27.10 59.00,27.30C56.33,27.50 53.67,27.52 51.00,28.50C48.33,29.48 45.27,31.22 43.00,33.20C40.73,35.18 38.80,37.60 37.40,40.40C36.00,43.20 35.00,47.57 34.60,50.00Z"/><path d="M39.40,50.00C39.12,52.33 39.90,54.17 40.50,56.00C41.10,57.83 41.92,59.27 43.00,61.00C44.08,62.73 45.67,64.98 47.00,66.40C48.33,67.82 48.73,68.20 51.00,69.50C53.27,70.80 57.13,72.68 60.60,74.20C64.07,75.72 68.07,77.57 71.80,78.60C75.53,79.63 79.47,80.23 83.00,80.40C86.53,80.57 90.80,80.00 93.00,79.60C95.20,79.20 94.73,78.80 96.20,78.00C97.67,77.20 100.33,76.13 101.80,74.80C103.27,73.47 104.33,72.13 105.00,70.00C105.67,67.87 105.88,64.50 105.80,62.00C105.72,59.50 105.47,57.42 104.50,55.00C103.53,52.58 101.92,49.83 100.00,47.50C98.08,45.17 95.50,43.05 93.00,41.00C90.50,38.95 87.60,36.73 85.00,35.20C82.40,33.67 80.00,32.63 77.40,31.80C74.80,30.97 72.07,30.47 69.40,30.20C66.73,29.93 64.07,29.93 61.40,30.20C58.73,30.47 55.80,30.90 53.40,31.80C51.00,32.70 48.87,33.90 47.00,35.60C45.13,37.30 43.47,39.60 42.20,42.00C40.93,44.40 39.68,47.67 39.40,50.00Z"/><path d="M48.00,22.30C48.83,22.42 51.17,22.78 53.00,23.00C54.83,23.22 56.67,23.23 59.00,23.60C61.33,23.97 64.33,24.60 67.00,25.20C69.67,25.80 72.33,26.50 75.00,27.20C77.67,27.90 80.50,28.60 83.00,29.40C85.50,30.20 87.50,30.82 90.00,32.00C92.50,33.18 95.33,34.83 98.00,36.50C100.67,38.17 103.67,40.08 106.00,42.00C108.33,43.92 110.33,46.00 112.00,48.00C113.67,50.00 114.90,51.67 116.00,54.00C117.10,56.33 117.90,58.93 118.60,62.00C119.30,65.07 119.80,68.40 120.20,72.40C120.60,76.40 120.87,83.73 121.00,86.00"/><path d="M114.60,57.20C115.27,59.73 117.53,67.60 118.60,72.40C119.67,77.20 120.47,81.73 121.00,86.00C121.53,90.27 121.80,94.67 121.80,98.00C121.80,101.33 121.67,104.00 121.00,106.00C120.33,108.00 118.33,109.33 117.80,110.00"/><path d="M9.80,33.20C11.00,32.33 14.47,29.53 17.00,28.00C19.53,26.47 22.27,25.40 25.00,24.00C27.73,22.60 30.93,20.43 33.40,19.60C35.87,18.77 38.20,19.03 39.80,19.00C41.40,18.97 41.63,18.85 43.00,19.40C44.37,19.95 47.17,21.82 48.00,22.30"/><path d="M19.80,38.00C20.93,37.13 24.40,34.37 26.60,32.80C28.80,31.23 30.77,29.80 33.00,28.60C35.23,27.40 37.67,26.50 40.00,25.60C42.33,24.70 44.83,23.67 47.00,23.20C49.17,22.73 52.00,22.87 53.00,22.80"/><path d="M9.80,33.20 L8.60,41.20 L17.80,45.60 L19.80,38.00Z"/><path d="M78.50,111.20 L84.60,106.60 L88.80,116.80 L81.00,116.80Z"/><path d="M84.60,106.60C86.50,106.20 92.10,105.30 96.00,104.20C99.90,103.10 104.77,101.53 108.00,100.00C111.23,98.47 113.30,97.17 115.40,95.00C117.50,92.83 119.73,88.33 120.60,87.00"/><path d="M122.00,95.20C121.97,96.60 122.73,101.20 121.80,103.60C120.87,106.00 119.10,107.90 116.40,109.60C113.70,111.30 110.20,112.60 105.60,113.80C101.00,115.00 91.60,116.30 88.80,116.80"/></g>
<path d="M70.00,43.00C72.00,41.08 76.40,38.75 83.00,35.00C89.60,31.25 104.68,22.78 109.60,20.50C114.52,18.22 111.73,20.72 112.50,21.30C113.27,21.88 112.62,20.88 114.20,24.00C115.78,27.12 121.00,35.00 122.00,40.00C123.00,45.00 121.70,51.00 120.20,54.00C118.70,57.00 115.40,56.67 113.00,58.00C110.60,59.33 108.23,60.87 105.80,62.00C103.37,63.13 100.70,64.47 98.40,64.80C96.10,65.13 95.20,65.47 92.00,64.00C88.80,62.53 82.70,58.92 79.20,56.00C75.70,53.08 72.53,48.67 71.00,46.50C69.47,44.33 68.00,44.92 70.00,43.00Z" fill="#fff" stroke="#333333" stroke-width="1.0" stroke-linecap="round" stroke-linejoin="round"/>
<path d="M96.80,40.00 L103.20,33.60 L114.40,28.80 L116.00,17.60 L120.80,9.60 L125.60,1.60 L127.20,-2.00 L148.00,-2.00 L147.20,6.40 L143.20,12.80 L136.80,17.60 L132.00,21.50 L143.20,24.00 L156.00,20.80 L172.00,17.60 L182.00,16.00 L182.00,75.00 L176.80,70.40 L172.00,73.60 L165.60,72.00 L156.00,65.60 L144.80,56.00 L136.80,48.00 L136.80,62.40 L135.20,68.80 L131.20,71.20 L125.60,68.00 L121.60,60.80 L120.80,52.80 L108.00,53.60 L97.60,48.00Z" fill="#fff"/>
<path d="M97.60,48.00C97.42,47.33 96.63,45.33 96.50,44.00C96.37,42.67 96.38,41.25 96.80,40.00C97.22,38.75 97.93,37.57 99.00,36.50C100.07,35.43 100.63,34.88 103.20,33.60C105.77,32.32 110.40,30.13 114.40,28.80C118.40,27.47 122.40,26.40 127.20,25.60C132.00,24.80 138.40,24.80 143.20,24.00C148.00,23.20 151.20,21.87 156.00,20.80C160.80,19.73 168.00,18.40 172.00,17.60C176.00,16.80 178.67,16.27 180.00,16.00" fill="none" stroke="#333333" stroke-width="1.1" stroke-linecap="round" stroke-linejoin="round"/>
<path d="M97.60,48.00C99.33,48.93 104.13,52.80 108.00,53.60C111.87,54.40 116.00,53.73 120.80,52.80C125.60,51.87 132.00,49.33 136.80,48.00C141.60,46.67 145.07,45.73 149.60,44.80C154.13,43.87 158.93,43.07 164.00,42.40C169.07,41.73 177.33,41.07 180.00,40.80" fill="none" stroke="#333333" stroke-width="1.1" stroke-linecap="round" stroke-linejoin="round"/>
<path d="M100.80,36.80C102.27,35.73 106.27,34.93 108.00,35.20C109.73,35.47 110.40,36.53 111.20,38.40C112.00,40.27 113.33,44.67 112.80,46.40C112.27,48.13 109.87,48.80 108.00,48.80C106.13,48.80 103.07,47.60 101.60,46.40C100.13,45.20 99.33,43.20 99.20,41.60C99.07,40.00 99.33,37.87 100.80,36.80Z" fill="none" stroke="#333333" stroke-width="1.0" stroke-linecap="round" stroke-linejoin="round"/>
<path d="M122.40,30.40C122.80,31.73 124.00,36.53 124.80,38.40C125.60,40.27 126.80,41.07 127.20,41.60" fill="none" stroke="#333333" stroke-width="1.1" stroke-linecap="round" stroke-linejoin="round"/>
<path d="M114.40,27.00C114.67,25.43 114.93,20.50 116.00,17.60C117.07,14.70 119.20,12.27 120.80,9.60C122.40,6.93 124.53,3.20 125.60,1.60C126.67,0.00 126.93,0.27 127.20,0.00" fill="none" stroke="#333333" stroke-width="1.1" stroke-linecap="round" stroke-linejoin="round"/>
<path d="M148.00,0.00C147.87,1.07 148.00,4.27 147.20,6.40C146.40,8.53 144.93,10.93 143.20,12.80C141.47,14.67 138.67,16.27 136.80,17.60C134.93,18.93 132.80,20.27 132.00,20.80" fill="none" stroke="#333333" stroke-width="1.1" stroke-linecap="round" stroke-linejoin="round"/>
<path d="M136.80,9.60L140.00,12.80" fill="none" stroke="#333333" stroke-width="1.1" stroke-linecap="round" stroke-linejoin="round"/>
<path d="M120.80,52.80C120.93,54.13 120.80,58.27 121.60,60.80C122.40,63.33 124.00,66.27 125.60,68.00C127.20,69.73 129.60,71.07 131.20,71.20C132.80,71.33 134.27,70.27 135.20,68.80C136.13,67.33 136.58,65.07 136.80,62.40C137.02,59.73 136.55,54.40 136.50,52.80" fill="none" stroke="#333333" stroke-width="1.1" stroke-linecap="round" stroke-linejoin="round"/>
<path d="M136.80,48.00C138.13,49.33 141.60,53.07 144.80,56.00C148.00,58.93 152.53,62.93 156.00,65.60C159.47,68.27 162.93,70.67 165.60,72.00C168.27,73.33 170.13,73.87 172.00,73.60C173.87,73.33 175.73,72.00 176.80,70.40C177.87,68.80 178.67,66.13 178.40,64.00C178.13,61.87 176.80,59.47 175.20,57.60C173.60,55.73 170.93,54.40 168.80,52.80C166.67,51.20 163.47,48.80 162.40,48.00" fill="none" stroke="#333333" stroke-width="1.1" stroke-linecap="round" stroke-linejoin="round"/>
<path d="M151.20,56.80L162.40,53.60" fill="none" stroke="#333333" stroke-width="1.1" stroke-linecap="round" stroke-linejoin="round"/>
<path d="M168.80,48.00L178.40,44.80" fill="none" stroke="#333333" stroke-width="1.1" stroke-linecap="round" stroke-linejoin="round"/></g></g>
<g fill="none" stroke="#3d3d3d" stroke-width="1.6">
<rect x="166" y="84" width="179" height="129.5" rx="6"/>
<rect x="386" y="84" width="179" height="129.5" rx="6"/>
<rect x="63" y="420" width="179" height="129" rx="6"/>
<rect x="283" y="420" width="179" height="128.5" rx="6"/>
<rect x="503" y="419.5" width="179" height="129.2" rx="6"/>
</g></svg>
<div class="title" style="left:190px;top:23.1px;transform:scaleX(0.947);transform-origin:0 0">Installation</div><div class="title" style="left:429.3px;top:23.1px;transform:scaleX(0.960);transform-origin:0 0">Guide</div>
<div class="num" style="left:165.0px;top:227.1px">01</div>
<div class="ul" style="left:166.0px;top:245.5px;width:17.4px"></div>
<div class="num" style="left:385.0px;top:227.1px">02</div>
<div class="ul" style="left:386.2px;top:245.5px;width:17.4px"></div>
<div class="num" style="left:62.0px;top:562.9px">03</div>
<div class="ul" style="left:63.2px;top:581.3px;width:17.4px"></div>
<div class="num" style="left:282.0px;top:565.1px">04</div>
<div class="ul" style="left:283.4px;top:583.8px;width:17.4px"></div>
<div class="num" style="left:502.0px;top:565.1px">05</div>
<div class="ul" style="left:503.2px;top:583.8px;width:17.4px"></div>
<div class="txt" style="left:164.8px;top:257.9px">
<div style="transform:scaleX(0.9643)">Clean the screen</div>
<div style="transform:scaleX(1.0285)">with the provided wet wipe</div>
<div style="transform:scaleX(0.9879)">and microfiber. Remove</div>
<div style="transform:scaleX(1.0135)">any remaining dust with</div>
<div style="transform:scaleX(0.9725)">the Dust Removal Sticker to</div>
<div style="transform:scaleX(0.9567)">ensure the screen is free of</div>
<div style="transform:scaleX(0.9727)">dust, smudges, and debris.</div>
</div>
<div class="txt" style="left:384.8px;top:257.9px">
<div style="transform:scaleX(1.0051)">Remove the protective film</div>
<div style="transform:scaleX(1.0191)">and utilize the Alignment</div>
<div style="transform:scaleX(0.9658)">Sticker to easily align</div>
<div style="transform:scaleX(1.0126)">the protector by using</div>
<div style="transform:scaleX(0.9702)">the cutouts and sides as</div>
<div style="transform:scaleX(0.9974)">a guideline.</div>
</div>
<div class="txt" style="left:61.8px;top:593.7px">
<div style="transform:scaleX(1.0072)">Lightly tap the center</div>
<div style="transform:scaleX(0.9927)">of the screen protector</div>
<div style="transform:scaleX(1.0018)">to begin the self-</div>
<div style="transform:scaleX(0.9924)">application process.</div>
</div>
<div class="txt" style="left:281.8px;top:595.7px">
<div style="transform:scaleX(0.9928)">Once the protector has</div>
<div style="transform:scaleX(0.9865)">been installed to one’s</div>
<div style="transform:scaleX(1.0229)">liking, hold down the</div>
<div style="transform:scaleX(1.0007)">screen protector and</div>
<div style="transform:scaleX(0.9875)">carefully peel away the</div>
<div style="transform:scaleX(1.0232)">Alignment Sticker without</div>
<div style="transform:scaleX(1.0000)">lifting the glass.</div>
</div>
<div class="txt" style="left:501.8px;top:595.6px">
<div style="transform:scaleX(0.9763)">Push out any air bubbles</div>
<div style="transform:scaleX(1.0366)">with the provided</div>
<div style="transform:scaleX(0.9524)">Squeegee. Clean the screen</div>
<div style="transform:scaleX(0.9924)">and allow 24-72</div>
<div style="transform:scaleX(0.9762)">hours for all air to disperse</div>
<div style="transform:scaleX(1.0379)">naturally.</div>
</div>
</body></html>
